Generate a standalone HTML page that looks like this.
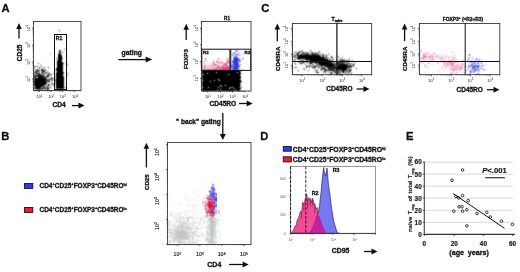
<!DOCTYPE html><html><head><meta charset="utf-8"><style>html,body{margin:0;padding:0;background:#fff;}svg{display:block;will-change:transform;}</style></head><body><svg width="520" height="272" viewBox="0 0 520 272" font-family='"Liberation Sans", sans-serif'>
<defs><filter id="bl" x="-5%" y="-5%" width="110%" height="110%"><feConvolveMatrix order="3" kernelMatrix="1 2 1 2 6 2 1 2 1" divisor="18" preserveAlpha="false"/></filter><filter id="bl2" x="-5%" y="-5%" width="110%" height="110%"><feConvolveMatrix order="3" kernelMatrix="1 2 1 2 12 2 1 2 1" divisor="24" preserveAlpha="false"/></filter></defs>
<rect width="520" height="272" fill="#fff"/>
<text x="1.6" y="12.4" font-size="11.2" font-weight="bold" text-anchor="start" fill="#111" stroke="#111" stroke-width="0.3" >A</text>
<g filter="url(#bl)"><path fill="#000" fill-opacity="0.55" d="M50 53h1v1h-1zM58 53h1v1h-1zM40 64h1v1h-1zM42 69h1v1h-1zM34 70h1v1h-1zM45 70h1v1h-1zM54 70h1v1h-1zM37 71h1v1h-1zM47 71h1v1h-1zM36 72h1v1h-1zM37 72h1v1h-1zM43 72h1v1h-1zM48 72h1v1h-1zM35 73h1v1h-1zM45 73h1v1h-1zM53 73h1v1h-1zM67 75h1v1h-1zM48 79h1v1h-1zM49 79h1v1h-1zM50 79h1v1h-1zM53 79h1v1h-1zM48 81h1v1h-1zM49 84h1v1h-1zM51 85h1v1h-1zM34 89h1v1h-1zM45 89h1v1h-1z"/>
<path fill="#000" fill-opacity="0.70" d="M66 48h1v1h-1zM64 49h1v1h-1zM60 51h1v1h-1zM59 52h1v1h-1zM60 52h1v1h-1zM58 54h1v1h-1zM62 58h1v1h-1zM57 60h1v1h-1zM38 63h1v1h-1zM67 64h1v1h-1zM35 66h1v1h-1zM42 68h1v1h-1zM36 69h1v1h-1zM37 69h1v1h-1zM41 69h1v1h-1zM43 69h1v1h-1zM45 69h1v1h-1zM37 70h1v1h-1zM43 70h1v1h-1zM36 71h1v1h-1zM44 71h1v1h-1zM39 72h1v1h-1zM41 72h1v1h-1zM45 72h1v1h-1zM56 72h1v1h-1zM63 72h1v1h-1zM36 73h1v1h-1zM39 73h1v1h-1zM42 73h1v1h-1zM40 74h1v1h-1zM41 74h1v1h-1zM43 74h1v1h-1zM49 74h1v1h-1zM35 75h1v1h-1zM36 75h1v1h-1zM44 75h1v1h-1zM46 75h1v1h-1zM34 76h1v1h-1zM36 76h1v1h-1zM45 76h1v1h-1zM47 77h1v1h-1zM34 78h1v1h-1zM51 78h1v1h-1zM54 78h1v1h-1zM47 79h1v1h-1zM46 80h1v1h-1zM47 80h1v1h-1zM48 80h1v1h-1zM46 81h1v1h-1zM47 81h1v1h-1zM49 81h1v1h-1zM51 81h1v1h-1zM51 83h1v1h-1zM53 84h1v1h-1zM44 85h1v1h-1zM47 85h1v1h-1zM49 85h1v1h-1zM44 86h1v1h-1zM34 87h1v1h-1zM42 87h1v1h-1zM46 87h1v1h-1zM47 87h1v1h-1zM40 88h1v1h-1zM41 88h1v1h-1zM43 88h1v1h-1zM36 89h1v1h-1zM40 89h1v1h-1zM41 89h1v1h-1z"/>
<path fill="#000" fill-opacity="0.85" d="M59 50h1v1h-1zM60 50h1v1h-1zM59 53h1v1h-1zM60 53h1v1h-1zM61 55h1v1h-1zM56 58h1v1h-1zM62 62h1v1h-1zM66 62h1v1h-1zM63 63h1v1h-1zM44 67h1v1h-1zM48 67h1v1h-1zM34 68h1v1h-1zM39 68h1v1h-1zM56 69h1v1h-1zM36 70h1v1h-1zM39 70h1v1h-1zM44 70h1v1h-1zM35 71h1v1h-1zM38 71h1v1h-1zM42 71h1v1h-1zM43 71h1v1h-1zM35 72h1v1h-1zM46 72h1v1h-1zM37 73h1v1h-1zM38 73h1v1h-1zM47 73h1v1h-1zM67 73h1v1h-1zM36 74h1v1h-1zM42 74h1v1h-1zM48 74h1v1h-1zM51 74h1v1h-1zM37 75h1v1h-1zM39 75h1v1h-1zM40 75h1v1h-1zM47 75h1v1h-1zM50 75h1v1h-1zM35 76h1v1h-1zM37 76h1v1h-1zM38 76h1v1h-1zM43 76h1v1h-1zM48 76h1v1h-1zM63 76h1v1h-1zM44 77h1v1h-1zM46 77h1v1h-1zM35 78h1v1h-1zM45 78h1v1h-1zM49 78h1v1h-1zM52 78h1v1h-1zM34 79h1v1h-1zM45 79h1v1h-1zM34 80h1v1h-1zM45 80h1v1h-1zM49 80h1v1h-1zM52 80h1v1h-1zM45 82h1v1h-1zM46 82h1v1h-1zM48 82h1v1h-1zM44 83h1v1h-1zM46 83h1v1h-1zM55 83h1v1h-1zM48 84h1v1h-1zM43 85h1v1h-1zM53 85h1v1h-1zM42 86h1v1h-1zM45 86h1v1h-1zM47 86h1v1h-1zM35 87h1v1h-1zM43 87h1v1h-1zM44 87h1v1h-1zM48 87h1v1h-1zM34 88h1v1h-1zM35 88h1v1h-1zM37 88h1v1h-1zM38 88h1v1h-1zM39 88h1v1h-1zM42 88h1v1h-1zM45 88h1v1h-1zM47 88h1v1h-1zM48 88h1v1h-1zM37 89h1v1h-1zM39 89h1v1h-1zM42 89h1v1h-1zM46 89h1v1h-1zM47 89h1v1h-1z"/>
<path fill="#000" fill-opacity="1.00" d="M59 30h1v1h-1zM59 51h1v1h-1zM62 52h1v1h-1zM59 54h1v1h-1zM60 54h1v1h-1zM58 55h1v1h-1zM59 55h1v1h-1zM60 55h1v1h-1zM58 56h1v1h-1zM59 56h1v1h-1zM60 56h1v1h-1zM61 56h1v1h-1zM58 57h1v1h-1zM59 57h1v1h-1zM60 57h1v1h-1zM61 57h1v1h-1zM58 58h1v1h-1zM59 58h1v1h-1zM60 58h1v1h-1zM61 58h1v1h-1zM58 59h1v1h-1zM59 59h1v1h-1zM60 59h1v1h-1zM61 59h1v1h-1zM58 60h1v1h-1zM59 60h1v1h-1zM60 60h1v1h-1zM61 60h1v1h-1zM57 61h1v1h-1zM58 61h1v1h-1zM59 61h1v1h-1zM60 61h1v1h-1zM61 61h1v1h-1zM57 62h1v1h-1zM58 62h1v1h-1zM59 62h1v1h-1zM60 62h1v1h-1zM61 62h1v1h-1zM57 63h1v1h-1zM58 63h1v1h-1zM59 63h1v1h-1zM60 63h1v1h-1zM61 63h1v1h-1zM62 63h1v1h-1zM57 64h1v1h-1zM58 64h1v1h-1zM59 64h1v1h-1zM60 64h1v1h-1zM61 64h1v1h-1zM62 64h1v1h-1zM57 65h1v1h-1zM58 65h1v1h-1zM59 65h1v1h-1zM60 65h1v1h-1zM61 65h1v1h-1zM62 65h1v1h-1zM34 66h1v1h-1zM37 66h1v1h-1zM41 66h1v1h-1zM57 66h1v1h-1zM58 66h1v1h-1zM59 66h1v1h-1zM60 66h1v1h-1zM61 66h1v1h-1zM62 66h1v1h-1zM39 67h1v1h-1zM57 67h1v1h-1zM58 67h1v1h-1zM59 67h1v1h-1zM60 67h1v1h-1zM61 67h1v1h-1zM62 67h1v1h-1zM56 68h1v1h-1zM57 68h1v1h-1zM58 68h1v1h-1zM59 68h1v1h-1zM60 68h1v1h-1zM61 68h1v1h-1zM62 68h1v1h-1zM57 69h1v1h-1zM58 69h1v1h-1zM59 69h1v1h-1zM60 69h1v1h-1zM61 69h1v1h-1zM62 69h1v1h-1zM38 70h1v1h-1zM41 70h1v1h-1zM42 70h1v1h-1zM56 70h1v1h-1zM57 70h1v1h-1zM58 70h1v1h-1zM59 70h1v1h-1zM60 70h1v1h-1zM61 70h1v1h-1zM62 70h1v1h-1zM57 71h1v1h-1zM58 71h1v1h-1zM59 71h1v1h-1zM60 71h1v1h-1zM61 71h1v1h-1zM62 71h1v1h-1zM34 72h1v1h-1zM42 72h1v1h-1zM57 72h1v1h-1zM58 72h1v1h-1zM59 72h1v1h-1zM60 72h1v1h-1zM61 72h1v1h-1zM62 72h1v1h-1zM44 73h1v1h-1zM49 73h1v1h-1zM56 73h1v1h-1zM57 73h1v1h-1zM58 73h1v1h-1zM59 73h1v1h-1zM60 73h1v1h-1zM61 73h1v1h-1zM62 73h1v1h-1zM63 73h1v1h-1zM34 74h1v1h-1zM38 74h1v1h-1zM39 74h1v1h-1zM56 74h1v1h-1zM57 74h1v1h-1zM58 74h1v1h-1zM59 74h1v1h-1zM60 74h1v1h-1zM61 74h1v1h-1zM62 74h1v1h-1zM34 75h1v1h-1zM38 75h1v1h-1zM41 75h1v1h-1zM43 75h1v1h-1zM48 75h1v1h-1zM56 75h1v1h-1zM57 75h1v1h-1zM58 75h1v1h-1zM59 75h1v1h-1zM60 75h1v1h-1zM61 75h1v1h-1zM62 75h1v1h-1zM39 76h1v1h-1zM40 76h1v1h-1zM41 76h1v1h-1zM42 76h1v1h-1zM47 76h1v1h-1zM56 76h1v1h-1zM57 76h1v1h-1zM58 76h1v1h-1zM59 76h1v1h-1zM60 76h1v1h-1zM61 76h1v1h-1zM62 76h1v1h-1zM34 77h1v1h-1zM35 77h1v1h-1zM38 77h1v1h-1zM39 77h1v1h-1zM40 77h1v1h-1zM41 77h1v1h-1zM42 77h1v1h-1zM43 77h1v1h-1zM45 77h1v1h-1zM51 77h1v1h-1zM56 77h1v1h-1zM57 77h1v1h-1zM58 77h1v1h-1zM59 77h1v1h-1zM60 77h1v1h-1zM61 77h1v1h-1zM62 77h1v1h-1zM63 77h1v1h-1zM36 78h1v1h-1zM37 78h1v1h-1zM38 78h1v1h-1zM39 78h1v1h-1zM40 78h1v1h-1zM41 78h1v1h-1zM42 78h1v1h-1zM43 78h1v1h-1zM44 78h1v1h-1zM56 78h1v1h-1zM57 78h1v1h-1zM58 78h1v1h-1zM59 78h1v1h-1zM60 78h1v1h-1zM61 78h1v1h-1zM62 78h1v1h-1zM63 78h1v1h-1zM35 79h1v1h-1zM36 79h1v1h-1zM37 79h1v1h-1zM38 79h1v1h-1zM39 79h1v1h-1zM40 79h1v1h-1zM41 79h1v1h-1zM42 79h1v1h-1zM43 79h1v1h-1zM44 79h1v1h-1zM46 79h1v1h-1zM51 79h1v1h-1zM56 79h1v1h-1zM57 79h1v1h-1zM58 79h1v1h-1zM59 79h1v1h-1zM60 79h1v1h-1zM61 79h1v1h-1zM62 79h1v1h-1zM63 79h1v1h-1zM35 80h1v1h-1zM36 80h1v1h-1zM37 80h1v1h-1zM38 80h1v1h-1zM39 80h1v1h-1zM40 80h1v1h-1zM41 80h1v1h-1zM42 80h1v1h-1zM43 80h1v1h-1zM44 80h1v1h-1zM55 80h1v1h-1zM56 80h1v1h-1zM57 80h1v1h-1zM58 80h1v1h-1zM59 80h1v1h-1zM60 80h1v1h-1zM61 80h1v1h-1zM62 80h1v1h-1zM63 80h1v1h-1zM34 81h1v1h-1zM35 81h1v1h-1zM36 81h1v1h-1zM37 81h1v1h-1zM38 81h1v1h-1zM39 81h1v1h-1zM40 81h1v1h-1zM41 81h1v1h-1zM42 81h1v1h-1zM43 81h1v1h-1zM44 81h1v1h-1zM45 81h1v1h-1zM56 81h1v1h-1zM57 81h1v1h-1zM58 81h1v1h-1zM59 81h1v1h-1zM60 81h1v1h-1zM61 81h1v1h-1zM62 81h1v1h-1zM63 81h1v1h-1zM34 82h1v1h-1zM35 82h1v1h-1zM36 82h1v1h-1zM37 82h1v1h-1zM38 82h1v1h-1zM39 82h1v1h-1zM40 82h1v1h-1zM41 82h1v1h-1zM42 82h1v1h-1zM43 82h1v1h-1zM44 82h1v1h-1zM56 82h1v1h-1zM57 82h1v1h-1zM58 82h1v1h-1zM59 82h1v1h-1zM60 82h1v1h-1zM61 82h1v1h-1zM62 82h1v1h-1zM63 82h1v1h-1zM34 83h1v1h-1zM35 83h1v1h-1zM36 83h1v1h-1zM37 83h1v1h-1zM38 83h1v1h-1zM39 83h1v1h-1zM40 83h1v1h-1zM41 83h1v1h-1zM42 83h1v1h-1zM43 83h1v1h-1zM45 83h1v1h-1zM52 83h1v1h-1zM56 83h1v1h-1zM57 83h1v1h-1zM58 83h1v1h-1zM59 83h1v1h-1zM60 83h1v1h-1zM61 83h1v1h-1zM62 83h1v1h-1zM63 83h1v1h-1zM34 84h1v1h-1zM35 84h1v1h-1zM36 84h1v1h-1zM37 84h1v1h-1zM38 84h1v1h-1zM39 84h1v1h-1zM40 84h1v1h-1zM41 84h1v1h-1zM42 84h1v1h-1zM43 84h1v1h-1zM44 84h1v1h-1zM45 84h1v1h-1zM56 84h1v1h-1zM57 84h1v1h-1zM58 84h1v1h-1zM59 84h1v1h-1zM60 84h1v1h-1zM61 84h1v1h-1zM62 84h1v1h-1zM63 84h1v1h-1zM34 85h1v1h-1zM35 85h1v1h-1zM36 85h1v1h-1zM37 85h1v1h-1zM38 85h1v1h-1zM39 85h1v1h-1zM40 85h1v1h-1zM41 85h1v1h-1zM42 85h1v1h-1zM48 85h1v1h-1zM56 85h1v1h-1zM57 85h1v1h-1zM58 85h1v1h-1zM59 85h1v1h-1zM60 85h1v1h-1zM61 85h1v1h-1zM62 85h1v1h-1zM63 85h1v1h-1zM35 86h1v1h-1zM36 86h1v1h-1zM37 86h1v1h-1zM38 86h1v1h-1zM39 86h1v1h-1zM40 86h1v1h-1zM41 86h1v1h-1zM56 86h1v1h-1zM57 86h1v1h-1zM58 86h1v1h-1zM59 86h1v1h-1zM60 86h1v1h-1zM61 86h1v1h-1zM62 86h1v1h-1zM63 86h1v1h-1zM36 87h1v1h-1zM37 87h1v1h-1zM38 87h1v1h-1zM39 87h1v1h-1zM40 87h1v1h-1zM50 87h1v1h-1zM56 87h1v1h-1zM57 87h1v1h-1zM58 87h1v1h-1zM59 87h1v1h-1zM60 87h1v1h-1zM61 87h1v1h-1zM62 87h1v1h-1zM63 87h1v1h-1zM65 87h1v1h-1zM36 88h1v1h-1zM44 88h1v1h-1zM56 88h1v1h-1zM57 88h1v1h-1zM58 88h1v1h-1zM59 88h1v1h-1zM60 88h1v1h-1zM61 88h1v1h-1zM62 88h1v1h-1zM63 88h1v1h-1zM38 89h1v1h-1zM48 89h1v1h-1zM60 90h1v1h-1z"/></g>
<rect x="33.5" y="21.5" width="47.5" height="69" fill="none" stroke="#222" stroke-width="0.8"/>
<rect x="54.5" y="34.5" width="12" height="55" fill="none" stroke="#111" stroke-width="1"/>
<text x="55.8" y="40" font-size="5.0" font-weight="bold" text-anchor="start" fill="#111" stroke="#111" stroke-width="0.3" >R1</text>
<line x1="31.9" y1="28.2" x2="33.5" y2="28.2" stroke="#333" stroke-width="0.7"/><line x1="32.6" y1="23.1" x2="33.5" y2="23.1" stroke="#333" stroke-width="0.5"/><line x1="31.9" y1="45.1" x2="33.5" y2="45.1" stroke="#333" stroke-width="0.7"/><line x1="32.6" y1="40.0" x2="33.5" y2="40.0" stroke="#333" stroke-width="0.5"/><line x1="32.6" y1="37.0" x2="33.5" y2="37.0" stroke="#333" stroke-width="0.5"/><line x1="32.6" y1="34.9" x2="33.5" y2="34.9" stroke="#333" stroke-width="0.5"/><line x1="32.6" y1="33.3" x2="33.5" y2="33.3" stroke="#333" stroke-width="0.5"/><line x1="32.6" y1="31.9" x2="33.5" y2="31.9" stroke="#333" stroke-width="0.5"/><line x1="32.6" y1="30.8" x2="33.5" y2="30.8" stroke="#333" stroke-width="0.5"/><line x1="32.6" y1="29.8" x2="33.5" y2="29.8" stroke="#333" stroke-width="0.5"/><line x1="32.6" y1="29.0" x2="33.5" y2="29.0" stroke="#333" stroke-width="0.5"/><line x1="31.9" y1="62.0" x2="33.5" y2="62.0" stroke="#333" stroke-width="0.7"/><line x1="32.6" y1="56.9" x2="33.5" y2="56.9" stroke="#333" stroke-width="0.5"/><line x1="32.6" y1="53.9" x2="33.5" y2="53.9" stroke="#333" stroke-width="0.5"/><line x1="32.6" y1="51.8" x2="33.5" y2="51.8" stroke="#333" stroke-width="0.5"/><line x1="32.6" y1="50.2" x2="33.5" y2="50.2" stroke="#333" stroke-width="0.5"/><line x1="32.6" y1="48.8" x2="33.5" y2="48.8" stroke="#333" stroke-width="0.5"/><line x1="32.6" y1="47.7" x2="33.5" y2="47.7" stroke="#333" stroke-width="0.5"/><line x1="32.6" y1="46.7" x2="33.5" y2="46.7" stroke="#333" stroke-width="0.5"/><line x1="32.6" y1="45.9" x2="33.5" y2="45.9" stroke="#333" stroke-width="0.5"/><line x1="31.9" y1="79.0" x2="33.5" y2="79.0" stroke="#333" stroke-width="0.7"/><line x1="32.6" y1="73.9" x2="33.5" y2="73.9" stroke="#333" stroke-width="0.5"/><line x1="32.6" y1="70.9" x2="33.5" y2="70.9" stroke="#333" stroke-width="0.5"/><line x1="32.6" y1="68.8" x2="33.5" y2="68.8" stroke="#333" stroke-width="0.5"/><line x1="32.6" y1="67.2" x2="33.5" y2="67.2" stroke="#333" stroke-width="0.5"/><line x1="32.6" y1="65.8" x2="33.5" y2="65.8" stroke="#333" stroke-width="0.5"/><line x1="32.6" y1="64.7" x2="33.5" y2="64.7" stroke="#333" stroke-width="0.5"/><line x1="32.6" y1="63.7" x2="33.5" y2="63.7" stroke="#333" stroke-width="0.5"/><line x1="32.6" y1="62.9" x2="33.5" y2="62.9" stroke="#333" stroke-width="0.5"/><line x1="32.6" y1="87.8" x2="33.5" y2="87.8" stroke="#333" stroke-width="0.5"/><line x1="32.6" y1="85.7" x2="33.5" y2="85.7" stroke="#333" stroke-width="0.5"/><line x1="32.6" y1="84.1" x2="33.5" y2="84.1" stroke="#333" stroke-width="0.5"/><line x1="32.6" y1="82.7" x2="33.5" y2="82.7" stroke="#333" stroke-width="0.5"/><line x1="32.6" y1="81.6" x2="33.5" y2="81.6" stroke="#333" stroke-width="0.5"/><line x1="32.6" y1="80.6" x2="33.5" y2="80.6" stroke="#333" stroke-width="0.5"/><line x1="32.6" y1="79.8" x2="33.5" y2="79.8" stroke="#333" stroke-width="0.5"/>
<line x1="34.8" y1="90.5" x2="34.8" y2="91.4" stroke="#333" stroke-width="0.5"/><line x1="35.9" y1="90.5" x2="35.9" y2="91.4" stroke="#333" stroke-width="0.5"/><line x1="36.9" y1="90.5" x2="36.9" y2="91.4" stroke="#333" stroke-width="0.5"/><line x1="37.7" y1="90.5" x2="37.7" y2="91.4" stroke="#333" stroke-width="0.5"/><line x1="38.4" y1="90.5" x2="38.4" y2="91.4" stroke="#333" stroke-width="0.5"/><line x1="39.0" y1="90.5" x2="39.0" y2="91.4" stroke="#333" stroke-width="0.5"/><line x1="39.5" y1="90.5" x2="39.5" y2="92.1" stroke="#333" stroke-width="0.7"/><line x1="43.1" y1="90.5" x2="43.1" y2="91.4" stroke="#333" stroke-width="0.5"/><line x1="45.1" y1="90.5" x2="45.1" y2="91.4" stroke="#333" stroke-width="0.5"/><line x1="46.6" y1="90.5" x2="46.6" y2="91.4" stroke="#333" stroke-width="0.5"/><line x1="47.7" y1="90.5" x2="47.7" y2="91.4" stroke="#333" stroke-width="0.5"/><line x1="48.7" y1="90.5" x2="48.7" y2="91.4" stroke="#333" stroke-width="0.5"/><line x1="49.5" y1="90.5" x2="49.5" y2="91.4" stroke="#333" stroke-width="0.5"/><line x1="50.2" y1="90.5" x2="50.2" y2="91.4" stroke="#333" stroke-width="0.5"/><line x1="50.8" y1="90.5" x2="50.8" y2="91.4" stroke="#333" stroke-width="0.5"/><line x1="51.2" y1="90.5" x2="51.2" y2="92.1" stroke="#333" stroke-width="0.7"/><line x1="54.8" y1="90.5" x2="54.8" y2="91.4" stroke="#333" stroke-width="0.5"/><line x1="56.8" y1="90.5" x2="56.8" y2="91.4" stroke="#333" stroke-width="0.5"/><line x1="58.3" y1="90.5" x2="58.3" y2="91.4" stroke="#333" stroke-width="0.5"/><line x1="59.4" y1="90.5" x2="59.4" y2="91.4" stroke="#333" stroke-width="0.5"/><line x1="60.4" y1="90.5" x2="60.4" y2="91.4" stroke="#333" stroke-width="0.5"/><line x1="61.2" y1="90.5" x2="61.2" y2="91.4" stroke="#333" stroke-width="0.5"/><line x1="61.9" y1="90.5" x2="61.9" y2="91.4" stroke="#333" stroke-width="0.5"/><line x1="62.5" y1="90.5" x2="62.5" y2="91.4" stroke="#333" stroke-width="0.5"/><line x1="62.8" y1="90.5" x2="62.8" y2="92.1" stroke="#333" stroke-width="0.7"/><line x1="66.4" y1="90.5" x2="66.4" y2="91.4" stroke="#333" stroke-width="0.5"/><line x1="68.4" y1="90.5" x2="68.4" y2="91.4" stroke="#333" stroke-width="0.5"/><line x1="69.9" y1="90.5" x2="69.9" y2="91.4" stroke="#333" stroke-width="0.5"/><line x1="71.0" y1="90.5" x2="71.0" y2="91.4" stroke="#333" stroke-width="0.5"/><line x1="72.0" y1="90.5" x2="72.0" y2="91.4" stroke="#333" stroke-width="0.5"/><line x1="72.8" y1="90.5" x2="72.8" y2="91.4" stroke="#333" stroke-width="0.5"/><line x1="73.5" y1="90.5" x2="73.5" y2="91.4" stroke="#333" stroke-width="0.5"/><line x1="74.1" y1="90.5" x2="74.1" y2="91.4" stroke="#333" stroke-width="0.5"/><line x1="75.0" y1="90.5" x2="75.0" y2="92.1" stroke="#333" stroke-width="0.7"/><line x1="78.6" y1="90.5" x2="78.6" y2="91.4" stroke="#333" stroke-width="0.5"/><line x1="80.6" y1="90.5" x2="80.6" y2="91.4" stroke="#333" stroke-width="0.5"/>
<text transform="translate(29.5,79) rotate(-90)" font-size="3.9" text-anchor="middle" fill="#222">10<tspan dy="-1.3" font-size="2.81">1</tspan></text>
<text transform="translate(29.5,62) rotate(-90)" font-size="3.9" text-anchor="middle" fill="#222">10<tspan dy="-1.3" font-size="2.81">2</tspan></text>
<text transform="translate(29.5,45.1) rotate(-90)" font-size="3.9" text-anchor="middle" fill="#222">10<tspan dy="-1.3" font-size="2.81">3</tspan></text>
<text transform="translate(29.5,28.2) rotate(-90)" font-size="3.9" text-anchor="middle" fill="#222">10<tspan dy="-1.3" font-size="2.81">4</tspan></text>
<text x="39.5" y="98.3" font-size="3.9" text-anchor="middle" fill="#222">10<tspan dy="-1.3" font-size="2.81">1</tspan></text>
<text x="51.2" y="98.3" font-size="3.9" text-anchor="middle" fill="#222">10<tspan dy="-1.3" font-size="2.81">2</tspan></text>
<text x="62.8" y="98.3" font-size="3.9" text-anchor="middle" fill="#222">10<tspan dy="-1.3" font-size="2.81">3</tspan></text>
<text x="75" y="98.3" font-size="3.9" text-anchor="middle" fill="#222">10<tspan dy="-1.3" font-size="2.81">4</tspan></text>
<text transform="translate(21.6,52.9) rotate(-90)" font-size="6.5" font-weight="bold" text-anchor="middle" fill="#111" stroke="#111" stroke-width="0.3">CD25</text>
<line x1="19" y1="28" x2="19" y2="38.5" stroke="#111" stroke-width="1.3"/><path d="M19 23 L16.2 29 L21.8 29Z" fill="#111"/>
<text x="52.4" y="107.3" font-size="6.6" font-weight="bold" text-anchor="start" fill="#111" stroke="#111" stroke-width="0.3" >CD4</text>
<line x1="72" y1="105.6" x2="79.5" y2="105.6" stroke="#111" stroke-width="1.3"/><path d="M84.5 105.6 L78.5 102.6 L78.5 108.6Z" fill="#111"/>
<text x="121.6" y="55.2" font-size="6.8" font-weight="bold" text-anchor="start" fill="#111" stroke="#111" stroke-width="0.3" >gating</text>
<line x1="118.4" y1="59.6" x2="146.6" y2="59.6" stroke="#111" stroke-width="1.3"/><path d="M152.2 59.6 L145.6 56.6 L145.6 62.6Z" fill="#111"/>
<g filter="url(#bl)"><path fill="#000" fill-opacity="0.55" d="M240 72h1v1h-1zM240 78h1v1h-1zM240 79h1v1h-1zM240 82h1v1h-1z"/>
<path fill="#000" fill-opacity="0.70" d="M240 74h1v1h-1zM240 83h1v1h-1zM240 90h1v1h-1z"/>
<path fill="#000" fill-opacity="0.85" d="M241 70h1v1h-1zM240 71h1v1h-1zM240 73h1v1h-1zM240 80h1v1h-1zM240 85h1v1h-1z"/>
<path fill="#000" fill-opacity="1.00" d="M202 70h1v1h-1zM203 70h1v1h-1zM204 70h1v1h-1zM205 70h1v1h-1zM206 70h1v1h-1zM207 70h1v1h-1zM208 70h1v1h-1zM209 70h1v1h-1zM210 70h1v1h-1zM211 70h1v1h-1zM212 70h1v1h-1zM213 70h1v1h-1zM214 70h1v1h-1zM215 70h1v1h-1zM216 70h1v1h-1zM217 70h1v1h-1zM218 70h1v1h-1zM219 70h1v1h-1zM220 70h1v1h-1zM221 70h1v1h-1zM222 70h1v1h-1zM223 70h1v1h-1zM224 70h1v1h-1zM225 70h1v1h-1zM226 70h1v1h-1zM227 70h1v1h-1zM228 70h1v1h-1zM229 70h1v1h-1zM230 70h1v1h-1zM231 70h1v1h-1zM232 70h1v1h-1zM233 70h1v1h-1zM234 70h1v1h-1zM235 70h1v1h-1zM236 70h1v1h-1zM237 70h1v1h-1zM238 70h1v1h-1zM239 70h1v1h-1zM202 71h1v1h-1zM203 71h1v1h-1zM204 71h1v1h-1zM205 71h1v1h-1zM206 71h1v1h-1zM207 71h1v1h-1zM208 71h1v1h-1zM209 71h1v1h-1zM210 71h1v1h-1zM211 71h1v1h-1zM212 71h1v1h-1zM213 71h1v1h-1zM214 71h1v1h-1zM215 71h1v1h-1zM216 71h1v1h-1zM217 71h1v1h-1zM218 71h1v1h-1zM219 71h1v1h-1zM220 71h1v1h-1zM221 71h1v1h-1zM222 71h1v1h-1zM223 71h1v1h-1zM224 71h1v1h-1zM225 71h1v1h-1zM226 71h1v1h-1zM227 71h1v1h-1zM228 71h1v1h-1zM229 71h1v1h-1zM230 71h1v1h-1zM231 71h1v1h-1zM232 71h1v1h-1zM233 71h1v1h-1zM234 71h1v1h-1zM235 71h1v1h-1zM236 71h1v1h-1zM237 71h1v1h-1zM238 71h1v1h-1zM239 71h1v1h-1zM202 72h1v1h-1zM203 72h1v1h-1zM204 72h1v1h-1zM205 72h1v1h-1zM206 72h1v1h-1zM207 72h1v1h-1zM208 72h1v1h-1zM209 72h1v1h-1zM210 72h1v1h-1zM211 72h1v1h-1zM212 72h1v1h-1zM213 72h1v1h-1zM214 72h1v1h-1zM215 72h1v1h-1zM217 72h1v1h-1zM218 72h1v1h-1zM219 72h1v1h-1zM220 72h1v1h-1zM221 72h1v1h-1zM222 72h1v1h-1zM223 72h1v1h-1zM224 72h1v1h-1zM225 72h1v1h-1zM226 72h1v1h-1zM227 72h1v1h-1zM228 72h1v1h-1zM229 72h1v1h-1zM230 72h1v1h-1zM231 72h1v1h-1zM232 72h1v1h-1zM233 72h1v1h-1zM234 72h1v1h-1zM235 72h1v1h-1zM236 72h1v1h-1zM238 72h1v1h-1zM239 72h1v1h-1zM202 73h1v1h-1zM203 73h1v1h-1zM204 73h1v1h-1zM205 73h1v1h-1zM206 73h1v1h-1zM208 73h1v1h-1zM209 73h1v1h-1zM210 73h1v1h-1zM211 73h1v1h-1zM212 73h1v1h-1zM213 73h1v1h-1zM214 73h1v1h-1zM215 73h1v1h-1zM216 73h1v1h-1zM217 73h1v1h-1zM218 73h1v1h-1zM219 73h1v1h-1zM220 73h1v1h-1zM221 73h1v1h-1zM222 73h1v1h-1zM223 73h1v1h-1zM224 73h1v1h-1zM225 73h1v1h-1zM226 73h1v1h-1zM227 73h1v1h-1zM228 73h1v1h-1zM229 73h1v1h-1zM230 73h1v1h-1zM231 73h1v1h-1zM232 73h1v1h-1zM233 73h1v1h-1zM234 73h1v1h-1zM235 73h1v1h-1zM236 73h1v1h-1zM237 73h1v1h-1zM238 73h1v1h-1zM239 73h1v1h-1zM202 74h1v1h-1zM204 74h1v1h-1zM205 74h1v1h-1zM206 74h1v1h-1zM207 74h1v1h-1zM208 74h1v1h-1zM209 74h1v1h-1zM210 74h1v1h-1zM211 74h1v1h-1zM212 74h1v1h-1zM213 74h1v1h-1zM214 74h1v1h-1zM215 74h1v1h-1zM216 74h1v1h-1zM217 74h1v1h-1zM218 74h1v1h-1zM219 74h1v1h-1zM220 74h1v1h-1zM221 74h1v1h-1zM222 74h1v1h-1zM223 74h1v1h-1zM224 74h1v1h-1zM225 74h1v1h-1zM226 74h1v1h-1zM227 74h1v1h-1zM229 74h1v1h-1zM230 74h1v1h-1zM231 74h1v1h-1zM232 74h1v1h-1zM233 74h1v1h-1zM234 74h1v1h-1zM235 74h1v1h-1zM236 74h1v1h-1zM237 74h1v1h-1zM238 74h1v1h-1zM239 74h1v1h-1zM202 75h1v1h-1zM203 75h1v1h-1zM204 75h1v1h-1zM205 75h1v1h-1zM206 75h1v1h-1zM207 75h1v1h-1zM208 75h1v1h-1zM209 75h1v1h-1zM210 75h1v1h-1zM211 75h1v1h-1zM212 75h1v1h-1zM213 75h1v1h-1zM214 75h1v1h-1zM215 75h1v1h-1zM216 75h1v1h-1zM217 75h1v1h-1zM218 75h1v1h-1zM219 75h1v1h-1zM220 75h1v1h-1zM221 75h1v1h-1zM222 75h1v1h-1zM223 75h1v1h-1zM224 75h1v1h-1zM225 75h1v1h-1zM226 75h1v1h-1zM227 75h1v1h-1zM228 75h1v1h-1zM229 75h1v1h-1zM230 75h1v1h-1zM231 75h1v1h-1zM232 75h1v1h-1zM233 75h1v1h-1zM234 75h1v1h-1zM235 75h1v1h-1zM236 75h1v1h-1zM237 75h1v1h-1zM238 75h1v1h-1zM239 75h1v1h-1zM202 76h1v1h-1zM203 76h1v1h-1zM204 76h1v1h-1zM205 76h1v1h-1zM206 76h1v1h-1zM207 76h1v1h-1zM208 76h1v1h-1zM209 76h1v1h-1zM210 76h1v1h-1zM211 76h1v1h-1zM212 76h1v1h-1zM213 76h1v1h-1zM214 76h1v1h-1zM215 76h1v1h-1zM216 76h1v1h-1zM217 76h1v1h-1zM218 76h1v1h-1zM219 76h1v1h-1zM220 76h1v1h-1zM221 76h1v1h-1zM222 76h1v1h-1zM223 76h1v1h-1zM224 76h1v1h-1zM225 76h1v1h-1zM226 76h1v1h-1zM227 76h1v1h-1zM228 76h1v1h-1zM229 76h1v1h-1zM230 76h1v1h-1zM231 76h1v1h-1zM232 76h1v1h-1zM233 76h1v1h-1zM234 76h1v1h-1zM235 76h1v1h-1zM236 76h1v1h-1zM237 76h1v1h-1zM238 76h1v1h-1zM239 76h1v1h-1zM240 76h1v1h-1zM202 77h1v1h-1zM203 77h1v1h-1zM204 77h1v1h-1zM205 77h1v1h-1zM206 77h1v1h-1zM207 77h1v1h-1zM208 77h1v1h-1zM209 77h1v1h-1zM210 77h1v1h-1zM211 77h1v1h-1zM212 77h1v1h-1zM213 77h1v1h-1zM214 77h1v1h-1zM215 77h1v1h-1zM216 77h1v1h-1zM217 77h1v1h-1zM218 77h1v1h-1zM219 77h1v1h-1zM220 77h1v1h-1zM221 77h1v1h-1zM222 77h1v1h-1zM223 77h1v1h-1zM224 77h1v1h-1zM225 77h1v1h-1zM226 77h1v1h-1zM227 77h1v1h-1zM228 77h1v1h-1zM229 77h1v1h-1zM230 77h1v1h-1zM231 77h1v1h-1zM232 77h1v1h-1zM233 77h1v1h-1zM234 77h1v1h-1zM235 77h1v1h-1zM236 77h1v1h-1zM237 77h1v1h-1zM238 77h1v1h-1zM239 77h1v1h-1zM240 77h1v1h-1zM202 78h1v1h-1zM203 78h1v1h-1zM204 78h1v1h-1zM205 78h1v1h-1zM206 78h1v1h-1zM207 78h1v1h-1zM208 78h1v1h-1zM209 78h1v1h-1zM210 78h1v1h-1zM211 78h1v1h-1zM212 78h1v1h-1zM213 78h1v1h-1zM214 78h1v1h-1zM215 78h1v1h-1zM216 78h1v1h-1zM217 78h1v1h-1zM218 78h1v1h-1zM219 78h1v1h-1zM220 78h1v1h-1zM221 78h1v1h-1zM222 78h1v1h-1zM223 78h1v1h-1zM224 78h1v1h-1zM225 78h1v1h-1zM226 78h1v1h-1zM227 78h1v1h-1zM228 78h1v1h-1zM229 78h1v1h-1zM230 78h1v1h-1zM231 78h1v1h-1zM232 78h1v1h-1zM233 78h1v1h-1zM234 78h1v1h-1zM235 78h1v1h-1zM236 78h1v1h-1zM237 78h1v1h-1zM238 78h1v1h-1zM239 78h1v1h-1zM202 79h1v1h-1zM203 79h1v1h-1zM204 79h1v1h-1zM205 79h1v1h-1zM206 79h1v1h-1zM207 79h1v1h-1zM208 79h1v1h-1zM209 79h1v1h-1zM210 79h1v1h-1zM211 79h1v1h-1zM212 79h1v1h-1zM213 79h1v1h-1zM214 79h1v1h-1zM215 79h1v1h-1zM216 79h1v1h-1zM217 79h1v1h-1zM219 79h1v1h-1zM220 79h1v1h-1zM221 79h1v1h-1zM222 79h1v1h-1zM223 79h1v1h-1zM224 79h1v1h-1zM225 79h1v1h-1zM226 79h1v1h-1zM227 79h1v1h-1zM228 79h1v1h-1zM229 79h1v1h-1zM230 79h1v1h-1zM231 79h1v1h-1zM232 79h1v1h-1zM233 79h1v1h-1zM234 79h1v1h-1zM235 79h1v1h-1zM236 79h1v1h-1zM237 79h1v1h-1zM238 79h1v1h-1zM239 79h1v1h-1zM203 80h1v1h-1zM204 80h1v1h-1zM205 80h1v1h-1zM206 80h1v1h-1zM207 80h1v1h-1zM208 80h1v1h-1zM209 80h1v1h-1zM210 80h1v1h-1zM211 80h1v1h-1zM212 80h1v1h-1zM213 80h1v1h-1zM215 80h1v1h-1zM216 80h1v1h-1zM217 80h1v1h-1zM218 80h1v1h-1zM220 80h1v1h-1zM221 80h1v1h-1zM222 80h1v1h-1zM223 80h1v1h-1zM224 80h1v1h-1zM225 80h1v1h-1zM226 80h1v1h-1zM227 80h1v1h-1zM228 80h1v1h-1zM229 80h1v1h-1zM230 80h1v1h-1zM231 80h1v1h-1zM232 80h1v1h-1zM233 80h1v1h-1zM234 80h1v1h-1zM235 80h1v1h-1zM236 80h1v1h-1zM237 80h1v1h-1zM238 80h1v1h-1zM239 80h1v1h-1zM202 81h1v1h-1zM203 81h1v1h-1zM204 81h1v1h-1zM205 81h1v1h-1zM206 81h1v1h-1zM207 81h1v1h-1zM208 81h1v1h-1zM209 81h1v1h-1zM211 81h1v1h-1zM212 81h1v1h-1zM213 81h1v1h-1zM214 81h1v1h-1zM215 81h1v1h-1zM216 81h1v1h-1zM217 81h1v1h-1zM218 81h1v1h-1zM219 81h1v1h-1zM220 81h1v1h-1zM221 81h1v1h-1zM222 81h1v1h-1zM223 81h1v1h-1zM224 81h1v1h-1zM225 81h1v1h-1zM226 81h1v1h-1zM227 81h1v1h-1zM228 81h1v1h-1zM229 81h1v1h-1zM230 81h1v1h-1zM231 81h1v1h-1zM232 81h1v1h-1zM233 81h1v1h-1zM234 81h1v1h-1zM235 81h1v1h-1zM236 81h1v1h-1zM237 81h1v1h-1zM238 81h1v1h-1zM239 81h1v1h-1zM240 81h1v1h-1zM241 81h1v1h-1zM202 82h1v1h-1zM203 82h1v1h-1zM204 82h1v1h-1zM205 82h1v1h-1zM206 82h1v1h-1zM207 82h1v1h-1zM208 82h1v1h-1zM209 82h1v1h-1zM210 82h1v1h-1zM211 82h1v1h-1zM212 82h1v1h-1zM213 82h1v1h-1zM214 82h1v1h-1zM215 82h1v1h-1zM216 82h1v1h-1zM217 82h1v1h-1zM218 82h1v1h-1zM219 82h1v1h-1zM220 82h1v1h-1zM221 82h1v1h-1zM222 82h1v1h-1zM223 82h1v1h-1zM224 82h1v1h-1zM225 82h1v1h-1zM226 82h1v1h-1zM227 82h1v1h-1zM228 82h1v1h-1zM229 82h1v1h-1zM230 82h1v1h-1zM231 82h1v1h-1zM232 82h1v1h-1zM233 82h1v1h-1zM234 82h1v1h-1zM235 82h1v1h-1zM236 82h1v1h-1zM237 82h1v1h-1zM238 82h1v1h-1zM239 82h1v1h-1zM202 83h1v1h-1zM203 83h1v1h-1zM204 83h1v1h-1zM205 83h1v1h-1zM206 83h1v1h-1zM207 83h1v1h-1zM208 83h1v1h-1zM209 83h1v1h-1zM210 83h1v1h-1zM211 83h1v1h-1zM212 83h1v1h-1zM213 83h1v1h-1zM214 83h1v1h-1zM215 83h1v1h-1zM216 83h1v1h-1zM217 83h1v1h-1zM218 83h1v1h-1zM219 83h1v1h-1zM220 83h1v1h-1zM221 83h1v1h-1zM222 83h1v1h-1zM223 83h1v1h-1zM224 83h1v1h-1zM225 83h1v1h-1zM226 83h1v1h-1zM227 83h1v1h-1zM228 83h1v1h-1zM229 83h1v1h-1zM230 83h1v1h-1zM231 83h1v1h-1zM232 83h1v1h-1zM233 83h1v1h-1zM234 83h1v1h-1zM235 83h1v1h-1zM236 83h1v1h-1zM237 83h1v1h-1zM238 83h1v1h-1zM239 83h1v1h-1zM202 84h1v1h-1zM203 84h1v1h-1zM204 84h1v1h-1zM205 84h1v1h-1zM206 84h1v1h-1zM207 84h1v1h-1zM208 84h1v1h-1zM209 84h1v1h-1zM210 84h1v1h-1zM211 84h1v1h-1zM212 84h1v1h-1zM213 84h1v1h-1zM214 84h1v1h-1zM215 84h1v1h-1zM216 84h1v1h-1zM217 84h1v1h-1zM218 84h1v1h-1zM219 84h1v1h-1zM220 84h1v1h-1zM221 84h1v1h-1zM222 84h1v1h-1zM223 84h1v1h-1zM224 84h1v1h-1zM225 84h1v1h-1zM226 84h1v1h-1zM227 84h1v1h-1zM228 84h1v1h-1zM229 84h1v1h-1zM230 84h1v1h-1zM231 84h1v1h-1zM232 84h1v1h-1zM233 84h1v1h-1zM234 84h1v1h-1zM235 84h1v1h-1zM236 84h1v1h-1zM237 84h1v1h-1zM238 84h1v1h-1zM239 84h1v1h-1zM202 85h1v1h-1zM203 85h1v1h-1zM204 85h1v1h-1zM205 85h1v1h-1zM206 85h1v1h-1zM207 85h1v1h-1zM208 85h1v1h-1zM209 85h1v1h-1zM210 85h1v1h-1zM211 85h1v1h-1zM212 85h1v1h-1zM213 85h1v1h-1zM214 85h1v1h-1zM215 85h1v1h-1zM216 85h1v1h-1zM217 85h1v1h-1zM218 85h1v1h-1zM219 85h1v1h-1zM221 85h1v1h-1zM222 85h1v1h-1zM223 85h1v1h-1zM224 85h1v1h-1zM226 85h1v1h-1zM227 85h1v1h-1zM228 85h1v1h-1zM229 85h1v1h-1zM230 85h1v1h-1zM231 85h1v1h-1zM232 85h1v1h-1zM233 85h1v1h-1zM234 85h1v1h-1zM235 85h1v1h-1zM236 85h1v1h-1zM237 85h1v1h-1zM238 85h1v1h-1zM239 85h1v1h-1zM202 86h1v1h-1zM203 86h1v1h-1zM204 86h1v1h-1zM205 86h1v1h-1zM206 86h1v1h-1zM207 86h1v1h-1zM208 86h1v1h-1zM209 86h1v1h-1zM210 86h1v1h-1zM211 86h1v1h-1zM212 86h1v1h-1zM213 86h1v1h-1zM214 86h1v1h-1zM215 86h1v1h-1zM216 86h1v1h-1zM217 86h1v1h-1zM218 86h1v1h-1zM219 86h1v1h-1zM220 86h1v1h-1zM222 86h1v1h-1zM223 86h1v1h-1zM224 86h1v1h-1zM225 86h1v1h-1zM226 86h1v1h-1zM227 86h1v1h-1zM228 86h1v1h-1zM229 86h1v1h-1zM230 86h1v1h-1zM231 86h1v1h-1zM232 86h1v1h-1zM233 86h1v1h-1zM234 86h1v1h-1zM235 86h1v1h-1zM236 86h1v1h-1zM237 86h1v1h-1zM238 86h1v1h-1zM239 86h1v1h-1zM203 87h1v1h-1zM204 87h1v1h-1zM205 87h1v1h-1zM206 87h1v1h-1zM207 87h1v1h-1zM209 87h1v1h-1zM210 87h1v1h-1zM211 87h1v1h-1zM212 87h1v1h-1zM213 87h1v1h-1zM214 87h1v1h-1zM215 87h1v1h-1zM216 87h1v1h-1zM217 87h1v1h-1zM219 87h1v1h-1zM220 87h1v1h-1zM221 87h1v1h-1zM222 87h1v1h-1zM223 87h1v1h-1zM224 87h1v1h-1zM225 87h1v1h-1zM226 87h1v1h-1zM227 87h1v1h-1zM228 87h1v1h-1zM229 87h1v1h-1zM231 87h1v1h-1zM233 87h1v1h-1zM234 87h1v1h-1zM235 87h1v1h-1zM236 87h1v1h-1zM237 87h1v1h-1zM238 87h1v1h-1zM239 87h1v1h-1zM241 87h1v1h-1zM202 88h1v1h-1zM203 88h1v1h-1zM204 88h1v1h-1zM205 88h1v1h-1zM206 88h1v1h-1zM207 88h1v1h-1zM208 88h1v1h-1zM209 88h1v1h-1zM210 88h1v1h-1zM211 88h1v1h-1zM212 88h1v1h-1zM213 88h1v1h-1zM214 88h1v1h-1zM215 88h1v1h-1zM216 88h1v1h-1zM217 88h1v1h-1zM218 88h1v1h-1zM219 88h1v1h-1zM220 88h1v1h-1zM221 88h1v1h-1zM222 88h1v1h-1zM223 88h1v1h-1zM224 88h1v1h-1zM225 88h1v1h-1zM226 88h1v1h-1zM227 88h1v1h-1zM228 88h1v1h-1zM230 88h1v1h-1zM231 88h1v1h-1zM232 88h1v1h-1zM233 88h1v1h-1zM235 88h1v1h-1zM236 88h1v1h-1zM237 88h1v1h-1zM238 88h1v1h-1zM239 88h1v1h-1zM240 88h1v1h-1zM202 89h1v1h-1zM203 89h1v1h-1zM204 89h1v1h-1zM205 89h1v1h-1zM206 89h1v1h-1zM207 89h1v1h-1zM208 89h1v1h-1zM209 89h1v1h-1zM210 89h1v1h-1zM211 89h1v1h-1zM212 89h1v1h-1zM213 89h1v1h-1zM214 89h1v1h-1zM215 89h1v1h-1zM216 89h1v1h-1zM217 89h1v1h-1zM218 89h1v1h-1zM219 89h1v1h-1zM221 89h1v1h-1zM222 89h1v1h-1zM223 89h1v1h-1zM224 89h1v1h-1zM225 89h1v1h-1zM226 89h1v1h-1zM227 89h1v1h-1zM228 89h1v1h-1zM229 89h1v1h-1zM230 89h1v1h-1zM231 89h1v1h-1zM232 89h1v1h-1zM233 89h1v1h-1zM234 89h1v1h-1zM235 89h1v1h-1zM236 89h1v1h-1zM237 89h1v1h-1zM238 89h1v1h-1zM239 89h1v1h-1zM202 90h1v1h-1zM203 90h1v1h-1zM204 90h1v1h-1zM205 90h1v1h-1zM206 90h1v1h-1zM207 90h1v1h-1zM208 90h1v1h-1zM209 90h1v1h-1zM210 90h1v1h-1zM211 90h1v1h-1zM212 90h1v1h-1zM213 90h1v1h-1zM214 90h1v1h-1zM215 90h1v1h-1zM216 90h1v1h-1zM218 90h1v1h-1zM219 90h1v1h-1zM220 90h1v1h-1zM221 90h1v1h-1zM222 90h1v1h-1zM223 90h1v1h-1zM224 90h1v1h-1zM225 90h1v1h-1zM226 90h1v1h-1zM227 90h1v1h-1zM228 90h1v1h-1zM229 90h1v1h-1zM230 90h1v1h-1zM231 90h1v1h-1zM232 90h1v1h-1zM233 90h1v1h-1zM234 90h1v1h-1zM236 90h1v1h-1zM237 90h1v1h-1zM238 90h1v1h-1zM239 90h1v1h-1z"/></g>
<g filter="url(#bl)"><path fill="#e8407a" fill-opacity="0.55" d="M228 60h1v1h-1zM204 61h1v1h-1zM213 61h1v1h-1zM213 62h1v1h-1zM219 63h1v1h-1zM211 64h1v1h-1zM203 65h1v1h-1zM208 65h1v1h-1zM211 65h1v1h-1zM226 65h1v1h-1zM214 66h1v1h-1zM207 67h1v1h-1zM208 67h1v1h-1zM212 68h1v1h-1zM214 68h1v1h-1zM204 69h1v1h-1zM208 69h1v1h-1z"/>
<path fill="#e8407a" fill-opacity="0.70" d="M206 60h1v1h-1zM212 61h1v1h-1zM221 61h1v1h-1zM227 61h1v1h-1zM229 61h1v1h-1zM214 62h1v1h-1zM220 62h1v1h-1zM221 62h1v1h-1zM228 62h1v1h-1zM209 63h1v1h-1zM220 63h1v1h-1zM223 63h1v1h-1zM224 63h1v1h-1zM212 64h1v1h-1zM213 64h1v1h-1zM219 64h1v1h-1zM222 64h1v1h-1zM224 64h1v1h-1zM226 64h1v1h-1zM229 64h1v1h-1zM205 65h1v1h-1zM206 65h1v1h-1zM218 65h1v1h-1zM222 65h1v1h-1zM223 65h1v1h-1zM204 66h1v1h-1zM209 66h1v1h-1zM217 66h1v1h-1zM218 66h1v1h-1zM221 66h1v1h-1zM222 66h1v1h-1zM205 67h1v1h-1zM212 67h1v1h-1zM215 67h1v1h-1zM217 67h1v1h-1zM218 67h1v1h-1zM204 68h1v1h-1zM216 68h1v1h-1zM217 68h1v1h-1zM210 69h1v1h-1zM214 69h1v1h-1zM215 69h1v1h-1zM216 69h1v1h-1zM217 69h1v1h-1z"/>
<path fill="#e8407a" fill-opacity="0.85" d="M205 59h1v1h-1zM218 59h1v1h-1zM227 59h1v1h-1zM228 61h1v1h-1zM217 62h1v1h-1zM227 62h1v1h-1zM225 63h1v1h-1zM214 64h1v1h-1zM215 64h1v1h-1zM216 64h1v1h-1zM204 65h1v1h-1zM214 65h1v1h-1zM215 65h1v1h-1zM217 65h1v1h-1zM225 65h1v1h-1zM210 66h1v1h-1zM219 66h1v1h-1zM223 66h1v1h-1zM225 66h1v1h-1zM226 66h1v1h-1zM227 66h1v1h-1zM206 67h1v1h-1zM216 67h1v1h-1zM219 67h1v1h-1zM221 67h1v1h-1zM203 68h1v1h-1zM209 68h1v1h-1zM218 68h1v1h-1zM219 68h1v1h-1zM220 68h1v1h-1zM205 69h1v1h-1zM207 69h1v1h-1zM220 69h1v1h-1z"/>
<path fill="#e8407a" fill-opacity="1.00" d="M227 60h1v1h-1zM216 61h1v1h-1zM217 61h1v1h-1zM204 62h1v1h-1zM218 62h1v1h-1zM222 62h1v1h-1zM226 62h1v1h-1zM213 63h1v1h-1zM226 63h1v1h-1zM228 63h1v1h-1zM225 64h1v1h-1zM224 65h1v1h-1zM227 65h1v1h-1zM212 66h1v1h-1zM228 66h1v1h-1zM204 67h1v1h-1zM220 67h1v1h-1zM222 67h1v1h-1zM223 67h1v1h-1zM224 67h1v1h-1zM225 67h1v1h-1zM226 67h1v1h-1zM227 67h1v1h-1zM228 67h1v1h-1zM229 67h1v1h-1zM211 68h1v1h-1zM213 68h1v1h-1zM215 68h1v1h-1zM222 68h1v1h-1zM223 68h1v1h-1zM224 68h1v1h-1zM225 68h1v1h-1zM226 68h1v1h-1zM227 68h1v1h-1zM228 68h1v1h-1zM229 68h1v1h-1zM209 69h1v1h-1zM213 69h1v1h-1zM219 69h1v1h-1zM221 69h1v1h-1zM222 69h1v1h-1zM223 69h1v1h-1zM224 69h1v1h-1zM225 69h1v1h-1zM226 69h1v1h-1zM227 69h1v1h-1zM228 69h1v1h-1zM229 69h1v1h-1z"/></g>
<g filter="url(#bl)"><path fill="#2a3ae0" fill-opacity="0.55" d="M241 54h1v1h-1zM235 55h1v1h-1zM233 57h1v1h-1zM240 61h1v1h-1zM239 65h1v1h-1zM231 66h1v1h-1zM231 67h1v1h-1zM232 67h1v1h-1zM239 67h1v1h-1z"/>
<path fill="#2a3ae0" fill-opacity="0.70" d="M234 52h1v1h-1zM238 52h1v1h-1zM232 53h1v1h-1zM234 53h1v1h-1zM235 53h1v1h-1zM237 54h1v1h-1zM232 55h1v1h-1zM236 55h1v1h-1zM239 55h1v1h-1zM234 56h1v1h-1zM233 58h1v1h-1zM242 58h1v1h-1zM233 59h1v1h-1zM238 59h1v1h-1zM239 59h1v1h-1zM240 60h1v1h-1zM238 62h1v1h-1zM233 63h1v1h-1zM238 63h1v1h-1zM233 66h1v1h-1zM238 66h1v1h-1zM232 68h1v1h-1zM232 69h1v1h-1z"/>
<path fill="#2a3ae0" fill-opacity="0.85" d="M233 53h1v1h-1zM236 54h1v1h-1zM233 55h1v1h-1zM236 56h1v1h-1zM234 57h1v1h-1zM236 57h1v1h-1zM237 57h1v1h-1zM238 58h1v1h-1zM233 60h1v1h-1zM238 60h1v1h-1zM232 62h1v1h-1zM233 62h1v1h-1zM232 64h1v1h-1zM233 64h1v1h-1zM238 64h1v1h-1zM240 64h1v1h-1zM231 65h1v1h-1zM238 65h1v1h-1zM239 66h1v1h-1zM233 67h1v1h-1zM233 69h1v1h-1zM238 69h1v1h-1z"/>
<path fill="#2a3ae0" fill-opacity="1.00" d="M235 50h1v1h-1zM237 50h1v1h-1zM236 51h1v1h-1zM238 54h1v1h-1zM235 57h1v1h-1zM234 58h1v1h-1zM235 58h1v1h-1zM236 58h1v1h-1zM237 58h1v1h-1zM234 59h1v1h-1zM235 59h1v1h-1zM236 59h1v1h-1zM237 59h1v1h-1zM234 60h1v1h-1zM235 60h1v1h-1zM236 60h1v1h-1zM237 60h1v1h-1zM239 60h1v1h-1zM232 61h1v1h-1zM233 61h1v1h-1zM234 61h1v1h-1zM235 61h1v1h-1zM236 61h1v1h-1zM237 61h1v1h-1zM239 61h1v1h-1zM234 62h1v1h-1zM235 62h1v1h-1zM236 62h1v1h-1zM237 62h1v1h-1zM234 63h1v1h-1zM235 63h1v1h-1zM236 63h1v1h-1zM237 63h1v1h-1zM234 64h1v1h-1zM235 64h1v1h-1zM236 64h1v1h-1zM237 64h1v1h-1zM232 65h1v1h-1zM234 65h1v1h-1zM235 65h1v1h-1zM236 65h1v1h-1zM237 65h1v1h-1zM232 66h1v1h-1zM234 66h1v1h-1zM235 66h1v1h-1zM236 66h1v1h-1zM237 66h1v1h-1zM234 67h1v1h-1zM235 67h1v1h-1zM236 67h1v1h-1zM237 67h1v1h-1zM238 67h1v1h-1zM233 68h1v1h-1zM234 68h1v1h-1zM235 68h1v1h-1zM236 68h1v1h-1zM237 68h1v1h-1zM234 69h1v1h-1zM235 69h1v1h-1zM236 69h1v1h-1zM237 69h1v1h-1z"/></g>
<rect x="201.5" y="21.5" width="49.5" height="69.5" fill="none" stroke="#222" stroke-width="0.8"/>
<rect x="201.8" y="49.2" width="49" height="21.2" fill="none" stroke="#111" stroke-width="1"/>
<line x1="230.3" y1="49.2" x2="230.3" y2="70.4" stroke="#333" stroke-width="2"/>
<text x="227" y="20.4" font-size="4.6" font-weight="bold" text-anchor="middle" fill="#111" stroke="#111" stroke-width="0.3" >R1</text>
<text x="203" y="54" font-size="4.4" font-weight="bold" text-anchor="start" fill="#111" stroke="#111" stroke-width="0.3" >R2</text>
<text x="244.5" y="54" font-size="4.4" font-weight="bold" text-anchor="start" fill="#111" stroke="#111" stroke-width="0.3" >R3</text>
<line x1="199.9" y1="28.2" x2="201.5" y2="28.2" stroke="#333" stroke-width="0.7"/><line x1="200.6" y1="23.2" x2="201.5" y2="23.2" stroke="#333" stroke-width="0.5"/><line x1="199.9" y1="44.4" x2="201.5" y2="44.4" stroke="#333" stroke-width="0.7"/><line x1="200.6" y1="39.4" x2="201.5" y2="39.4" stroke="#333" stroke-width="0.5"/><line x1="200.6" y1="36.4" x2="201.5" y2="36.4" stroke="#333" stroke-width="0.5"/><line x1="200.6" y1="34.3" x2="201.5" y2="34.3" stroke="#333" stroke-width="0.5"/><line x1="200.6" y1="32.7" x2="201.5" y2="32.7" stroke="#333" stroke-width="0.5"/><line x1="200.6" y1="31.4" x2="201.5" y2="31.4" stroke="#333" stroke-width="0.5"/><line x1="200.6" y1="30.3" x2="201.5" y2="30.3" stroke="#333" stroke-width="0.5"/><line x1="200.6" y1="29.3" x2="201.5" y2="29.3" stroke="#333" stroke-width="0.5"/><line x1="200.6" y1="28.5" x2="201.5" y2="28.5" stroke="#333" stroke-width="0.5"/><line x1="199.9" y1="61.5" x2="201.5" y2="61.5" stroke="#333" stroke-width="0.7"/><line x1="200.6" y1="56.5" x2="201.5" y2="56.5" stroke="#333" stroke-width="0.5"/><line x1="200.6" y1="53.5" x2="201.5" y2="53.5" stroke="#333" stroke-width="0.5"/><line x1="200.6" y1="51.4" x2="201.5" y2="51.4" stroke="#333" stroke-width="0.5"/><line x1="200.6" y1="49.8" x2="201.5" y2="49.8" stroke="#333" stroke-width="0.5"/><line x1="200.6" y1="48.5" x2="201.5" y2="48.5" stroke="#333" stroke-width="0.5"/><line x1="200.6" y1="47.4" x2="201.5" y2="47.4" stroke="#333" stroke-width="0.5"/><line x1="200.6" y1="46.4" x2="201.5" y2="46.4" stroke="#333" stroke-width="0.5"/><line x1="200.6" y1="45.6" x2="201.5" y2="45.6" stroke="#333" stroke-width="0.5"/><line x1="199.9" y1="78.2" x2="201.5" y2="78.2" stroke="#333" stroke-width="0.7"/><line x1="200.6" y1="73.2" x2="201.5" y2="73.2" stroke="#333" stroke-width="0.5"/><line x1="200.6" y1="70.2" x2="201.5" y2="70.2" stroke="#333" stroke-width="0.5"/><line x1="200.6" y1="68.1" x2="201.5" y2="68.1" stroke="#333" stroke-width="0.5"/><line x1="200.6" y1="66.5" x2="201.5" y2="66.5" stroke="#333" stroke-width="0.5"/><line x1="200.6" y1="65.2" x2="201.5" y2="65.2" stroke="#333" stroke-width="0.5"/><line x1="200.6" y1="64.1" x2="201.5" y2="64.1" stroke="#333" stroke-width="0.5"/><line x1="200.6" y1="63.1" x2="201.5" y2="63.1" stroke="#333" stroke-width="0.5"/><line x1="200.6" y1="62.3" x2="201.5" y2="62.3" stroke="#333" stroke-width="0.5"/><line x1="200.6" y1="89.9" x2="201.5" y2="89.9" stroke="#333" stroke-width="0.5"/><line x1="200.6" y1="86.9" x2="201.5" y2="86.9" stroke="#333" stroke-width="0.5"/><line x1="200.6" y1="84.8" x2="201.5" y2="84.8" stroke="#333" stroke-width="0.5"/><line x1="200.6" y1="83.2" x2="201.5" y2="83.2" stroke="#333" stroke-width="0.5"/><line x1="200.6" y1="81.9" x2="201.5" y2="81.9" stroke="#333" stroke-width="0.5"/><line x1="200.6" y1="80.8" x2="201.5" y2="80.8" stroke="#333" stroke-width="0.5"/><line x1="200.6" y1="79.8" x2="201.5" y2="79.8" stroke="#333" stroke-width="0.5"/><line x1="200.6" y1="79.0" x2="201.5" y2="79.0" stroke="#333" stroke-width="0.5"/>
<line x1="203.0" y1="91.0" x2="203.0" y2="91.9" stroke="#333" stroke-width="0.5"/><line x1="204.2" y1="91.0" x2="204.2" y2="91.9" stroke="#333" stroke-width="0.5"/><line x1="205.1" y1="91.0" x2="205.1" y2="91.9" stroke="#333" stroke-width="0.5"/><line x1="206.0" y1="91.0" x2="206.0" y2="91.9" stroke="#333" stroke-width="0.5"/><line x1="206.7" y1="91.0" x2="206.7" y2="91.9" stroke="#333" stroke-width="0.5"/><line x1="207.3" y1="91.0" x2="207.3" y2="91.9" stroke="#333" stroke-width="0.5"/><line x1="207.9" y1="91.0" x2="207.9" y2="92.6" stroke="#333" stroke-width="0.7"/><line x1="211.6" y1="91.0" x2="211.6" y2="91.9" stroke="#333" stroke-width="0.5"/><line x1="213.8" y1="91.0" x2="213.8" y2="91.9" stroke="#333" stroke-width="0.5"/><line x1="215.4" y1="91.0" x2="215.4" y2="91.9" stroke="#333" stroke-width="0.5"/><line x1="216.6" y1="91.0" x2="216.6" y2="91.9" stroke="#333" stroke-width="0.5"/><line x1="217.5" y1="91.0" x2="217.5" y2="91.9" stroke="#333" stroke-width="0.5"/><line x1="218.4" y1="91.0" x2="218.4" y2="91.9" stroke="#333" stroke-width="0.5"/><line x1="219.1" y1="91.0" x2="219.1" y2="91.9" stroke="#333" stroke-width="0.5"/><line x1="219.7" y1="91.0" x2="219.7" y2="91.9" stroke="#333" stroke-width="0.5"/><line x1="220.5" y1="91.0" x2="220.5" y2="92.6" stroke="#333" stroke-width="0.7"/><line x1="224.2" y1="91.0" x2="224.2" y2="91.9" stroke="#333" stroke-width="0.5"/><line x1="226.4" y1="91.0" x2="226.4" y2="91.9" stroke="#333" stroke-width="0.5"/><line x1="228.0" y1="91.0" x2="228.0" y2="91.9" stroke="#333" stroke-width="0.5"/><line x1="229.2" y1="91.0" x2="229.2" y2="91.9" stroke="#333" stroke-width="0.5"/><line x1="230.1" y1="91.0" x2="230.1" y2="91.9" stroke="#333" stroke-width="0.5"/><line x1="231.0" y1="91.0" x2="231.0" y2="91.9" stroke="#333" stroke-width="0.5"/><line x1="231.7" y1="91.0" x2="231.7" y2="91.9" stroke="#333" stroke-width="0.5"/><line x1="232.3" y1="91.0" x2="232.3" y2="91.9" stroke="#333" stroke-width="0.5"/><line x1="232.5" y1="91.0" x2="232.5" y2="92.6" stroke="#333" stroke-width="0.7"/><line x1="236.2" y1="91.0" x2="236.2" y2="91.9" stroke="#333" stroke-width="0.5"/><line x1="238.4" y1="91.0" x2="238.4" y2="91.9" stroke="#333" stroke-width="0.5"/><line x1="240.0" y1="91.0" x2="240.0" y2="91.9" stroke="#333" stroke-width="0.5"/><line x1="241.2" y1="91.0" x2="241.2" y2="91.9" stroke="#333" stroke-width="0.5"/><line x1="242.1" y1="91.0" x2="242.1" y2="91.9" stroke="#333" stroke-width="0.5"/><line x1="243.0" y1="91.0" x2="243.0" y2="91.9" stroke="#333" stroke-width="0.5"/><line x1="243.7" y1="91.0" x2="243.7" y2="91.9" stroke="#333" stroke-width="0.5"/><line x1="244.3" y1="91.0" x2="244.3" y2="91.9" stroke="#333" stroke-width="0.5"/><line x1="245.1" y1="91.0" x2="245.1" y2="92.6" stroke="#333" stroke-width="0.7"/><line x1="248.8" y1="91.0" x2="248.8" y2="91.9" stroke="#333" stroke-width="0.5"/>
<text transform="translate(197.5,78.2) rotate(-90)" font-size="3.9" text-anchor="middle" fill="#222">10<tspan dy="-1.3" font-size="2.81">1</tspan></text>
<text transform="translate(197.5,61.5) rotate(-90)" font-size="3.9" text-anchor="middle" fill="#222">10<tspan dy="-1.3" font-size="2.81">2</tspan></text>
<text transform="translate(197.5,44.4) rotate(-90)" font-size="3.9" text-anchor="middle" fill="#222">10<tspan dy="-1.3" font-size="2.81">3</tspan></text>
<text transform="translate(197.5,28.2) rotate(-90)" font-size="3.9" text-anchor="middle" fill="#222">10<tspan dy="-1.3" font-size="2.81">4</tspan></text>
<text x="207.9" y="98.4" font-size="3.9" text-anchor="middle" fill="#222">10<tspan dy="-1.3" font-size="2.81">1</tspan></text>
<text x="220.5" y="98.4" font-size="3.9" text-anchor="middle" fill="#222">10<tspan dy="-1.3" font-size="2.81">2</tspan></text>
<text x="232.5" y="98.4" font-size="3.9" text-anchor="middle" fill="#222">10<tspan dy="-1.3" font-size="2.81">3</tspan></text>
<text x="245.1" y="98.4" font-size="3.9" text-anchor="middle" fill="#222">10<tspan dy="-1.3" font-size="2.81">4</tspan></text>
<text transform="translate(188.2,59.2) rotate(-90)" font-size="6.1" font-weight="bold" text-anchor="middle" fill="#111" stroke="#111" stroke-width="0.3">FOXP3</text>
<line x1="186.2" y1="28.8" x2="186.2" y2="40" stroke="#111" stroke-width="1.3"/><path d="M186.2 23.8 L183.39999999999998 29.8 L189.0 29.8Z" fill="#111"/>
<text x="209.5" y="105.8" font-size="6.6" font-weight="bold" text-anchor="start" fill="#111" stroke="#111" stroke-width="0.3" >CD45RO</text>
<line x1="239" y1="103.5" x2="247.7" y2="103.5" stroke="#111" stroke-width="1.3"/><path d="M252.7 103.5 L246.7 100.5 L246.7 106.5Z" fill="#111"/>
<text x="261.3" y="12.4" font-size="11.2" font-weight="bold" text-anchor="start" fill="#111" stroke="#111" stroke-width="0.3" >C</text>
<g filter="url(#bl)"><path fill="#000" fill-opacity="0.55" d="M299 52h1v1h-1zM302 52h1v1h-1zM306 52h1v1h-1zM311 53h1v1h-1zM314 53h1v1h-1zM315 53h1v1h-1zM318 53h1v1h-1zM316 54h1v1h-1zM293 55h1v1h-1zM320 55h1v1h-1zM321 55h1v1h-1zM294 56h1v1h-1zM295 56h1v1h-1zM294 57h1v1h-1zM335 57h1v1h-1zM296 58h1v1h-1zM330 58h1v1h-1zM340 58h1v1h-1zM349 58h1v1h-1zM293 59h1v1h-1zM301 59h1v1h-1zM332 59h1v1h-1zM341 59h1v1h-1zM344 59h1v1h-1zM336 60h1v1h-1zM342 61h1v1h-1zM294 62h1v1h-1zM302 62h1v1h-1zM340 62h1v1h-1zM348 62h1v1h-1zM295 64h1v1h-1zM312 64h1v1h-1zM317 64h1v1h-1zM352 64h1v1h-1zM354 64h1v1h-1zM307 65h1v1h-1zM349 65h1v1h-1zM319 66h1v1h-1zM351 67h1v1h-1zM313 68h1v1h-1zM314 68h1v1h-1zM322 69h1v1h-1zM328 69h1v1h-1zM349 69h1v1h-1zM317 70h1v1h-1zM332 70h1v1h-1zM336 70h1v1h-1zM327 71h1v1h-1zM337 71h1v1h-1zM338 71h1v1h-1zM344 71h1v1h-1zM348 71h1v1h-1zM339 72h1v1h-1zM331 73h1v1h-1zM340 73h1v1h-1zM339 74h1v1h-1zM340 74h1v1h-1zM341 74h1v1h-1z"/>
<path fill="#000" fill-opacity="0.70" d="M310 50h1v1h-1zM298 53h1v1h-1zM302 53h1v1h-1zM306 53h1v1h-1zM307 53h1v1h-1zM308 53h1v1h-1zM310 53h1v1h-1zM313 53h1v1h-1zM320 53h1v1h-1zM298 54h1v1h-1zM313 54h1v1h-1zM314 54h1v1h-1zM325 55h1v1h-1zM297 56h1v1h-1zM322 56h1v1h-1zM326 56h1v1h-1zM295 57h1v1h-1zM325 57h1v1h-1zM326 57h1v1h-1zM328 57h1v1h-1zM342 57h1v1h-1zM326 58h1v1h-1zM327 58h1v1h-1zM299 59h1v1h-1zM342 59h1v1h-1zM303 60h1v1h-1zM329 60h1v1h-1zM346 60h1v1h-1zM302 61h1v1h-1zM307 61h1v1h-1zM311 61h1v1h-1zM332 61h1v1h-1zM339 61h1v1h-1zM344 61h1v1h-1zM350 61h1v1h-1zM304 62h1v1h-1zM306 62h1v1h-1zM314 62h1v1h-1zM333 62h1v1h-1zM336 62h1v1h-1zM342 62h1v1h-1zM343 62h1v1h-1zM344 62h1v1h-1zM347 62h1v1h-1zM295 63h1v1h-1zM302 63h1v1h-1zM309 63h1v1h-1zM316 63h1v1h-1zM335 63h1v1h-1zM336 63h1v1h-1zM340 63h1v1h-1zM342 63h1v1h-1zM343 63h1v1h-1zM344 63h1v1h-1zM346 63h1v1h-1zM348 63h1v1h-1zM349 63h1v1h-1zM313 64h1v1h-1zM318 64h1v1h-1zM335 64h1v1h-1zM337 64h1v1h-1zM347 64h1v1h-1zM348 64h1v1h-1zM310 65h1v1h-1zM312 65h1v1h-1zM315 65h1v1h-1zM316 65h1v1h-1zM317 65h1v1h-1zM319 65h1v1h-1zM320 65h1v1h-1zM311 66h1v1h-1zM315 66h1v1h-1zM321 66h1v1h-1zM322 66h1v1h-1zM351 66h1v1h-1zM309 67h1v1h-1zM314 67h1v1h-1zM318 67h1v1h-1zM323 67h1v1h-1zM324 67h1v1h-1zM325 67h1v1h-1zM348 67h1v1h-1zM349 67h1v1h-1zM303 68h1v1h-1zM330 68h1v1h-1zM348 68h1v1h-1zM317 69h1v1h-1zM323 69h1v1h-1zM324 69h1v1h-1zM327 69h1v1h-1zM331 69h1v1h-1zM333 69h1v1h-1zM334 69h1v1h-1zM347 69h1v1h-1zM351 69h1v1h-1zM308 70h1v1h-1zM324 70h1v1h-1zM325 70h1v1h-1zM326 70h1v1h-1zM329 70h1v1h-1zM337 70h1v1h-1zM338 70h1v1h-1zM339 70h1v1h-1zM345 70h1v1h-1zM346 70h1v1h-1zM349 70h1v1h-1zM316 71h1v1h-1zM324 71h1v1h-1zM335 71h1v1h-1zM339 71h1v1h-1zM346 71h1v1h-1zM325 72h1v1h-1zM328 72h1v1h-1zM330 72h1v1h-1zM334 72h1v1h-1zM338 72h1v1h-1zM340 72h1v1h-1zM342 72h1v1h-1zM344 72h1v1h-1zM330 73h1v1h-1zM338 73h1v1h-1zM326 74h1v1h-1zM337 74h1v1h-1z"/>
<path fill="#000" fill-opacity="0.85" d="M302 50h1v1h-1zM299 51h1v1h-1zM301 51h1v1h-1zM311 51h1v1h-1zM319 51h1v1h-1zM298 52h1v1h-1zM300 52h1v1h-1zM303 52h1v1h-1zM305 52h1v1h-1zM308 52h1v1h-1zM312 52h1v1h-1zM315 52h1v1h-1zM318 52h1v1h-1zM297 53h1v1h-1zM304 53h1v1h-1zM294 54h1v1h-1zM296 54h1v1h-1zM301 54h1v1h-1zM302 54h1v1h-1zM304 54h1v1h-1zM305 54h1v1h-1zM306 54h1v1h-1zM307 54h1v1h-1zM308 54h1v1h-1zM310 54h1v1h-1zM315 54h1v1h-1zM317 54h1v1h-1zM318 54h1v1h-1zM322 54h1v1h-1zM323 54h1v1h-1zM328 54h1v1h-1zM297 55h1v1h-1zM298 55h1v1h-1zM299 55h1v1h-1zM316 55h1v1h-1zM317 55h1v1h-1zM318 55h1v1h-1zM319 55h1v1h-1zM326 55h1v1h-1zM293 56h1v1h-1zM298 56h1v1h-1zM320 56h1v1h-1zM323 56h1v1h-1zM331 56h1v1h-1zM297 57h1v1h-1zM298 57h1v1h-1zM323 57h1v1h-1zM324 57h1v1h-1zM331 57h1v1h-1zM332 57h1v1h-1zM297 58h1v1h-1zM298 58h1v1h-1zM301 58h1v1h-1zM302 58h1v1h-1zM303 58h1v1h-1zM304 58h1v1h-1zM298 59h1v1h-1zM303 59h1v1h-1zM306 59h1v1h-1zM307 59h1v1h-1zM327 59h1v1h-1zM329 59h1v1h-1zM333 59h1v1h-1zM337 59h1v1h-1zM339 59h1v1h-1zM295 60h1v1h-1zM301 60h1v1h-1zM307 60h1v1h-1zM309 60h1v1h-1zM328 60h1v1h-1zM340 60h1v1h-1zM341 60h1v1h-1zM342 60h1v1h-1zM343 60h1v1h-1zM344 60h1v1h-1zM347 60h1v1h-1zM348 60h1v1h-1zM349 60h1v1h-1zM352 60h1v1h-1zM299 61h1v1h-1zM304 61h1v1h-1zM312 61h1v1h-1zM313 61h1v1h-1zM329 61h1v1h-1zM330 61h1v1h-1zM331 61h1v1h-1zM340 61h1v1h-1zM341 61h1v1h-1zM345 61h1v1h-1zM298 62h1v1h-1zM300 62h1v1h-1zM309 62h1v1h-1zM310 62h1v1h-1zM313 62h1v1h-1zM315 62h1v1h-1zM330 62h1v1h-1zM334 62h1v1h-1zM338 62h1v1h-1zM341 62h1v1h-1zM346 62h1v1h-1zM354 62h1v1h-1zM300 63h1v1h-1zM310 63h1v1h-1zM315 63h1v1h-1zM318 63h1v1h-1zM331 63h1v1h-1zM332 63h1v1h-1zM333 63h1v1h-1zM337 63h1v1h-1zM338 63h1v1h-1zM339 63h1v1h-1zM341 63h1v1h-1zM305 64h1v1h-1zM319 64h1v1h-1zM320 64h1v1h-1zM333 64h1v1h-1zM334 64h1v1h-1zM336 64h1v1h-1zM338 64h1v1h-1zM339 64h1v1h-1zM340 64h1v1h-1zM341 64h1v1h-1zM345 64h1v1h-1zM346 64h1v1h-1zM349 64h1v1h-1zM353 64h1v1h-1zM309 65h1v1h-1zM322 65h1v1h-1zM323 65h1v1h-1zM333 65h1v1h-1zM334 65h1v1h-1zM335 65h1v1h-1zM337 65h1v1h-1zM338 65h1v1h-1zM347 65h1v1h-1zM350 65h1v1h-1zM351 65h1v1h-1zM353 65h1v1h-1zM306 66h1v1h-1zM309 66h1v1h-1zM314 66h1v1h-1zM325 66h1v1h-1zM326 66h1v1h-1zM333 66h1v1h-1zM334 66h1v1h-1zM335 66h1v1h-1zM347 66h1v1h-1zM349 66h1v1h-1zM296 67h1v1h-1zM306 67h1v1h-1zM319 67h1v1h-1zM327 67h1v1h-1zM328 67h1v1h-1zM329 67h1v1h-1zM331 67h1v1h-1zM332 67h1v1h-1zM333 67h1v1h-1zM334 67h1v1h-1zM350 67h1v1h-1zM321 68h1v1h-1zM322 68h1v1h-1zM323 68h1v1h-1zM324 68h1v1h-1zM329 68h1v1h-1zM332 68h1v1h-1zM333 68h1v1h-1zM336 68h1v1h-1zM356 68h1v1h-1zM320 69h1v1h-1zM325 69h1v1h-1zM329 69h1v1h-1zM330 69h1v1h-1zM336 69h1v1h-1zM337 69h1v1h-1zM338 69h1v1h-1zM345 69h1v1h-1zM346 69h1v1h-1zM350 69h1v1h-1zM298 70h1v1h-1zM321 70h1v1h-1zM331 70h1v1h-1zM334 70h1v1h-1zM341 70h1v1h-1zM343 70h1v1h-1zM350 70h1v1h-1zM325 71h1v1h-1zM332 71h1v1h-1zM334 71h1v1h-1zM340 71h1v1h-1zM343 71h1v1h-1zM347 71h1v1h-1zM349 71h1v1h-1zM316 72h1v1h-1zM317 72h1v1h-1zM323 72h1v1h-1zM335 72h1v1h-1zM337 72h1v1h-1zM346 72h1v1h-1zM348 72h1v1h-1zM335 73h1v1h-1zM337 73h1v1h-1zM345 73h1v1h-1zM349 73h1v1h-1zM330 74h1v1h-1zM342 74h1v1h-1zM347 74h1v1h-1z"/>
<path fill="#000" fill-opacity="1.00" d="M294 52h1v1h-1zM296 52h1v1h-1zM303 53h1v1h-1zM312 53h1v1h-1zM316 53h1v1h-1zM297 54h1v1h-1zM300 54h1v1h-1zM312 54h1v1h-1zM295 55h1v1h-1zM300 55h1v1h-1zM301 55h1v1h-1zM302 55h1v1h-1zM303 55h1v1h-1zM304 55h1v1h-1zM305 55h1v1h-1zM306 55h1v1h-1zM307 55h1v1h-1zM308 55h1v1h-1zM309 55h1v1h-1zM310 55h1v1h-1zM311 55h1v1h-1zM312 55h1v1h-1zM313 55h1v1h-1zM314 55h1v1h-1zM315 55h1v1h-1zM323 55h1v1h-1zM299 56h1v1h-1zM300 56h1v1h-1zM301 56h1v1h-1zM302 56h1v1h-1zM303 56h1v1h-1zM304 56h1v1h-1zM305 56h1v1h-1zM306 56h1v1h-1zM307 56h1v1h-1zM308 56h1v1h-1zM309 56h1v1h-1zM310 56h1v1h-1zM311 56h1v1h-1zM312 56h1v1h-1zM313 56h1v1h-1zM314 56h1v1h-1zM315 56h1v1h-1zM316 56h1v1h-1zM317 56h1v1h-1zM318 56h1v1h-1zM319 56h1v1h-1zM338 56h1v1h-1zM299 57h1v1h-1zM300 57h1v1h-1zM301 57h1v1h-1zM302 57h1v1h-1zM303 57h1v1h-1zM304 57h1v1h-1zM305 57h1v1h-1zM306 57h1v1h-1zM307 57h1v1h-1zM308 57h1v1h-1zM309 57h1v1h-1zM310 57h1v1h-1zM311 57h1v1h-1zM312 57h1v1h-1zM313 57h1v1h-1zM314 57h1v1h-1zM315 57h1v1h-1zM316 57h1v1h-1zM317 57h1v1h-1zM318 57h1v1h-1zM319 57h1v1h-1zM320 57h1v1h-1zM321 57h1v1h-1zM322 57h1v1h-1zM299 58h1v1h-1zM300 58h1v1h-1zM305 58h1v1h-1zM306 58h1v1h-1zM307 58h1v1h-1zM308 58h1v1h-1zM309 58h1v1h-1zM310 58h1v1h-1zM311 58h1v1h-1zM312 58h1v1h-1zM313 58h1v1h-1zM314 58h1v1h-1zM315 58h1v1h-1zM316 58h1v1h-1zM317 58h1v1h-1zM318 58h1v1h-1zM319 58h1v1h-1zM320 58h1v1h-1zM321 58h1v1h-1zM322 58h1v1h-1zM323 58h1v1h-1zM324 58h1v1h-1zM294 59h1v1h-1zM305 59h1v1h-1zM308 59h1v1h-1zM309 59h1v1h-1zM310 59h1v1h-1zM311 59h1v1h-1zM312 59h1v1h-1zM313 59h1v1h-1zM314 59h1v1h-1zM315 59h1v1h-1zM316 59h1v1h-1zM317 59h1v1h-1zM318 59h1v1h-1zM319 59h1v1h-1zM320 59h1v1h-1zM321 59h1v1h-1zM322 59h1v1h-1zM323 59h1v1h-1zM324 59h1v1h-1zM325 59h1v1h-1zM326 59h1v1h-1zM306 60h1v1h-1zM310 60h1v1h-1zM311 60h1v1h-1zM312 60h1v1h-1zM313 60h1v1h-1zM314 60h1v1h-1zM315 60h1v1h-1zM316 60h1v1h-1zM317 60h1v1h-1zM318 60h1v1h-1zM319 60h1v1h-1zM320 60h1v1h-1zM321 60h1v1h-1zM322 60h1v1h-1zM323 60h1v1h-1zM324 60h1v1h-1zM325 60h1v1h-1zM326 60h1v1h-1zM327 60h1v1h-1zM330 60h1v1h-1zM332 60h1v1h-1zM301 61h1v1h-1zM310 61h1v1h-1zM314 61h1v1h-1zM315 61h1v1h-1zM316 61h1v1h-1zM317 61h1v1h-1zM318 61h1v1h-1zM319 61h1v1h-1zM320 61h1v1h-1zM321 61h1v1h-1zM322 61h1v1h-1zM323 61h1v1h-1zM324 61h1v1h-1zM325 61h1v1h-1zM326 61h1v1h-1zM327 61h1v1h-1zM328 61h1v1h-1zM343 61h1v1h-1zM346 61h1v1h-1zM303 62h1v1h-1zM307 62h1v1h-1zM311 62h1v1h-1zM312 62h1v1h-1zM316 62h1v1h-1zM317 62h1v1h-1zM318 62h1v1h-1zM319 62h1v1h-1zM320 62h1v1h-1zM321 62h1v1h-1zM322 62h1v1h-1zM323 62h1v1h-1zM324 62h1v1h-1zM325 62h1v1h-1zM326 62h1v1h-1zM327 62h1v1h-1zM328 62h1v1h-1zM329 62h1v1h-1zM331 62h1v1h-1zM337 62h1v1h-1zM339 62h1v1h-1zM301 63h1v1h-1zM311 63h1v1h-1zM319 63h1v1h-1zM320 63h1v1h-1zM321 63h1v1h-1zM322 63h1v1h-1zM323 63h1v1h-1zM324 63h1v1h-1zM325 63h1v1h-1zM326 63h1v1h-1zM327 63h1v1h-1zM328 63h1v1h-1zM329 63h1v1h-1zM330 63h1v1h-1zM351 63h1v1h-1zM321 64h1v1h-1zM322 64h1v1h-1zM323 64h1v1h-1zM324 64h1v1h-1zM325 64h1v1h-1zM326 64h1v1h-1zM327 64h1v1h-1zM328 64h1v1h-1zM329 64h1v1h-1zM330 64h1v1h-1zM331 64h1v1h-1zM332 64h1v1h-1zM342 64h1v1h-1zM343 64h1v1h-1zM344 64h1v1h-1zM321 65h1v1h-1zM324 65h1v1h-1zM325 65h1v1h-1zM326 65h1v1h-1zM327 65h1v1h-1zM328 65h1v1h-1zM329 65h1v1h-1zM330 65h1v1h-1zM331 65h1v1h-1zM332 65h1v1h-1zM339 65h1v1h-1zM340 65h1v1h-1zM341 65h1v1h-1zM342 65h1v1h-1zM343 65h1v1h-1zM344 65h1v1h-1zM345 65h1v1h-1zM346 65h1v1h-1zM307 66h1v1h-1zM313 66h1v1h-1zM317 66h1v1h-1zM327 66h1v1h-1zM328 66h1v1h-1zM329 66h1v1h-1zM330 66h1v1h-1zM331 66h1v1h-1zM332 66h1v1h-1zM337 66h1v1h-1zM338 66h1v1h-1zM339 66h1v1h-1zM340 66h1v1h-1zM341 66h1v1h-1zM342 66h1v1h-1zM343 66h1v1h-1zM344 66h1v1h-1zM345 66h1v1h-1zM346 66h1v1h-1zM348 66h1v1h-1zM350 66h1v1h-1zM353 66h1v1h-1zM294 67h1v1h-1zM312 67h1v1h-1zM315 67h1v1h-1zM321 67h1v1h-1zM330 67h1v1h-1zM335 67h1v1h-1zM336 67h1v1h-1zM337 67h1v1h-1zM338 67h1v1h-1zM339 67h1v1h-1zM340 67h1v1h-1zM341 67h1v1h-1zM342 67h1v1h-1zM343 67h1v1h-1zM344 67h1v1h-1zM345 67h1v1h-1zM346 67h1v1h-1zM347 67h1v1h-1zM328 68h1v1h-1zM331 68h1v1h-1zM334 68h1v1h-1zM335 68h1v1h-1zM337 68h1v1h-1zM338 68h1v1h-1zM339 68h1v1h-1zM340 68h1v1h-1zM341 68h1v1h-1zM342 68h1v1h-1zM343 68h1v1h-1zM344 68h1v1h-1zM345 68h1v1h-1zM346 68h1v1h-1zM304 69h1v1h-1zM326 69h1v1h-1zM332 69h1v1h-1zM339 69h1v1h-1zM340 69h1v1h-1zM341 69h1v1h-1zM342 69h1v1h-1zM343 69h1v1h-1zM344 69h1v1h-1zM348 69h1v1h-1zM315 70h1v1h-1zM328 70h1v1h-1zM330 70h1v1h-1zM333 70h1v1h-1zM335 70h1v1h-1zM342 70h1v1h-1zM344 70h1v1h-1zM342 71h1v1h-1zM350 71h1v1h-1zM318 72h1v1h-1zM331 72h1v1h-1zM343 72h1v1h-1zM332 73h1v1h-1zM351 73h1v1h-1z"/></g>
<rect x="292.5" y="23.5" width="79.2" height="51.2" fill="none" stroke="#222" stroke-width="0.8"/>
<line x1="336.9" y1="23" x2="336.9" y2="74.7" stroke="#111" stroke-width="1.2"/>
<line x1="292.5" y1="61.5" x2="371.7" y2="61.5" stroke="#111" stroke-width="1"/>
<text x="331.5" y="21.2" font-size="5.2" font-weight="bold" text-anchor="start" fill="#111" stroke="#111" stroke-width="0.3" >T<tspan font-size="3" dy="0.8">naive</tspan></text>
<line x1="290.9" y1="28.5" x2="292.5" y2="28.5" stroke="#333" stroke-width="0.7"/><line x1="291.6" y1="24.8" x2="292.5" y2="24.8" stroke="#333" stroke-width="0.5"/><line x1="290.9" y1="41.3" x2="292.5" y2="41.3" stroke="#333" stroke-width="0.7"/><line x1="291.6" y1="37.6" x2="292.5" y2="37.6" stroke="#333" stroke-width="0.5"/><line x1="291.6" y1="35.4" x2="292.5" y2="35.4" stroke="#333" stroke-width="0.5"/><line x1="291.6" y1="33.9" x2="292.5" y2="33.9" stroke="#333" stroke-width="0.5"/><line x1="291.6" y1="32.7" x2="292.5" y2="32.7" stroke="#333" stroke-width="0.5"/><line x1="291.6" y1="31.7" x2="292.5" y2="31.7" stroke="#333" stroke-width="0.5"/><line x1="291.6" y1="30.9" x2="292.5" y2="30.9" stroke="#333" stroke-width="0.5"/><line x1="291.6" y1="30.2" x2="292.5" y2="30.2" stroke="#333" stroke-width="0.5"/><line x1="291.6" y1="29.6" x2="292.5" y2="29.6" stroke="#333" stroke-width="0.5"/><line x1="290.9" y1="54.1" x2="292.5" y2="54.1" stroke="#333" stroke-width="0.7"/><line x1="291.6" y1="50.4" x2="292.5" y2="50.4" stroke="#333" stroke-width="0.5"/><line x1="291.6" y1="48.2" x2="292.5" y2="48.2" stroke="#333" stroke-width="0.5"/><line x1="291.6" y1="46.7" x2="292.5" y2="46.7" stroke="#333" stroke-width="0.5"/><line x1="291.6" y1="45.5" x2="292.5" y2="45.5" stroke="#333" stroke-width="0.5"/><line x1="291.6" y1="44.5" x2="292.5" y2="44.5" stroke="#333" stroke-width="0.5"/><line x1="291.6" y1="43.7" x2="292.5" y2="43.7" stroke="#333" stroke-width="0.5"/><line x1="291.6" y1="43.0" x2="292.5" y2="43.0" stroke="#333" stroke-width="0.5"/><line x1="291.6" y1="42.4" x2="292.5" y2="42.4" stroke="#333" stroke-width="0.5"/><line x1="290.9" y1="65.2" x2="292.5" y2="65.2" stroke="#333" stroke-width="0.7"/><line x1="291.6" y1="61.5" x2="292.5" y2="61.5" stroke="#333" stroke-width="0.5"/><line x1="291.6" y1="59.3" x2="292.5" y2="59.3" stroke="#333" stroke-width="0.5"/><line x1="291.6" y1="57.8" x2="292.5" y2="57.8" stroke="#333" stroke-width="0.5"/><line x1="291.6" y1="56.6" x2="292.5" y2="56.6" stroke="#333" stroke-width="0.5"/><line x1="291.6" y1="55.6" x2="292.5" y2="55.6" stroke="#333" stroke-width="0.5"/><line x1="291.6" y1="54.8" x2="292.5" y2="54.8" stroke="#333" stroke-width="0.5"/><line x1="291.6" y1="54.1" x2="292.5" y2="54.1" stroke="#333" stroke-width="0.5"/><line x1="291.6" y1="53.5" x2="292.5" y2="53.5" stroke="#333" stroke-width="0.5"/><line x1="291.6" y1="73.8" x2="292.5" y2="73.8" stroke="#333" stroke-width="0.5"/><line x1="291.6" y1="71.6" x2="292.5" y2="71.6" stroke="#333" stroke-width="0.5"/><line x1="291.6" y1="70.1" x2="292.5" y2="70.1" stroke="#333" stroke-width="0.5"/><line x1="291.6" y1="68.9" x2="292.5" y2="68.9" stroke="#333" stroke-width="0.5"/><line x1="291.6" y1="67.9" x2="292.5" y2="67.9" stroke="#333" stroke-width="0.5"/><line x1="291.6" y1="67.1" x2="292.5" y2="67.1" stroke="#333" stroke-width="0.5"/><line x1="291.6" y1="66.4" x2="292.5" y2="66.4" stroke="#333" stroke-width="0.5"/><line x1="291.6" y1="65.8" x2="292.5" y2="65.8" stroke="#333" stroke-width="0.5"/>
<line x1="294.4" y1="74.7" x2="294.4" y2="75.6" stroke="#333" stroke-width="0.5"/><line x1="296.3" y1="74.7" x2="296.3" y2="75.6" stroke="#333" stroke-width="0.5"/><line x1="297.9" y1="74.7" x2="297.9" y2="75.6" stroke="#333" stroke-width="0.5"/><line x1="299.2" y1="74.7" x2="299.2" y2="75.6" stroke="#333" stroke-width="0.5"/><line x1="300.4" y1="74.7" x2="300.4" y2="75.6" stroke="#333" stroke-width="0.5"/><line x1="301.4" y1="74.7" x2="301.4" y2="75.6" stroke="#333" stroke-width="0.5"/><line x1="302.3" y1="74.7" x2="302.3" y2="76.3" stroke="#333" stroke-width="0.7"/><line x1="308.3" y1="74.7" x2="308.3" y2="75.6" stroke="#333" stroke-width="0.5"/><line x1="311.7" y1="74.7" x2="311.7" y2="75.6" stroke="#333" stroke-width="0.5"/><line x1="314.2" y1="74.7" x2="314.2" y2="75.6" stroke="#333" stroke-width="0.5"/><line x1="316.1" y1="74.7" x2="316.1" y2="75.6" stroke="#333" stroke-width="0.5"/><line x1="317.7" y1="74.7" x2="317.7" y2="75.6" stroke="#333" stroke-width="0.5"/><line x1="319.0" y1="74.7" x2="319.0" y2="75.6" stroke="#333" stroke-width="0.5"/><line x1="320.2" y1="74.7" x2="320.2" y2="75.6" stroke="#333" stroke-width="0.5"/><line x1="321.2" y1="74.7" x2="321.2" y2="75.6" stroke="#333" stroke-width="0.5"/><line x1="322.7" y1="74.7" x2="322.7" y2="76.3" stroke="#333" stroke-width="0.7"/><line x1="328.7" y1="74.7" x2="328.7" y2="75.6" stroke="#333" stroke-width="0.5"/><line x1="332.1" y1="74.7" x2="332.1" y2="75.6" stroke="#333" stroke-width="0.5"/><line x1="334.6" y1="74.7" x2="334.6" y2="75.6" stroke="#333" stroke-width="0.5"/><line x1="336.5" y1="74.7" x2="336.5" y2="75.6" stroke="#333" stroke-width="0.5"/><line x1="338.1" y1="74.7" x2="338.1" y2="75.6" stroke="#333" stroke-width="0.5"/><line x1="339.4" y1="74.7" x2="339.4" y2="75.6" stroke="#333" stroke-width="0.5"/><line x1="340.6" y1="74.7" x2="340.6" y2="75.6" stroke="#333" stroke-width="0.5"/><line x1="341.6" y1="74.7" x2="341.6" y2="75.6" stroke="#333" stroke-width="0.5"/><line x1="342.3" y1="74.7" x2="342.3" y2="76.3" stroke="#333" stroke-width="0.7"/><line x1="348.3" y1="74.7" x2="348.3" y2="75.6" stroke="#333" stroke-width="0.5"/><line x1="351.7" y1="74.7" x2="351.7" y2="75.6" stroke="#333" stroke-width="0.5"/><line x1="354.2" y1="74.7" x2="354.2" y2="75.6" stroke="#333" stroke-width="0.5"/><line x1="356.1" y1="74.7" x2="356.1" y2="75.6" stroke="#333" stroke-width="0.5"/><line x1="357.7" y1="74.7" x2="357.7" y2="75.6" stroke="#333" stroke-width="0.5"/><line x1="359.0" y1="74.7" x2="359.0" y2="75.6" stroke="#333" stroke-width="0.5"/><line x1="360.2" y1="74.7" x2="360.2" y2="75.6" stroke="#333" stroke-width="0.5"/><line x1="361.2" y1="74.7" x2="361.2" y2="75.6" stroke="#333" stroke-width="0.5"/><line x1="361.9" y1="74.7" x2="361.9" y2="76.3" stroke="#333" stroke-width="0.7"/><line x1="367.9" y1="74.7" x2="367.9" y2="75.6" stroke="#333" stroke-width="0.5"/><line x1="371.3" y1="74.7" x2="371.3" y2="75.6" stroke="#333" stroke-width="0.5"/>
<text transform="translate(287.6,65.2) rotate(-90)" font-size="3.9" text-anchor="middle" fill="#222">10<tspan dy="-1.3" font-size="2.81">1</tspan></text>
<text transform="translate(287.6,54.1) rotate(-90)" font-size="3.9" text-anchor="middle" fill="#222">10<tspan dy="-1.3" font-size="2.81">2</tspan></text>
<text transform="translate(287.6,41.3) rotate(-90)" font-size="3.9" text-anchor="middle" fill="#222">10<tspan dy="-1.3" font-size="2.81">3</tspan></text>
<text transform="translate(287.6,28.5) rotate(-90)" font-size="3.9" text-anchor="middle" fill="#222">10<tspan dy="-1.3" font-size="2.81">4</tspan></text>
<text x="302.3" y="81.6" font-size="3.9" text-anchor="middle" fill="#222">10<tspan dy="-1.3" font-size="2.81">1</tspan></text>
<text x="322.7" y="81.6" font-size="3.9" text-anchor="middle" fill="#222">10<tspan dy="-1.3" font-size="2.81">2</tspan></text>
<text x="342.3" y="81.6" font-size="3.9" text-anchor="middle" fill="#222">10<tspan dy="-1.3" font-size="2.81">3</tspan></text>
<text x="361.9" y="81.6" font-size="3.9" text-anchor="middle" fill="#222">10<tspan dy="-1.3" font-size="2.81">4</tspan></text>
<text transform="translate(279.5,58.8) rotate(-90)" font-size="6.1" font-weight="bold" text-anchor="middle" fill="#111" stroke="#111" stroke-width="0.3">CD45RA</text>
<line x1="277.3" y1="28.5" x2="277.3" y2="41.2" stroke="#111" stroke-width="1.3"/><path d="M277.3 23.5 L274.5 29.5 L280.1 29.5Z" fill="#111"/>
<text x="326.2" y="91.3" font-size="6.5" font-weight="bold" text-anchor="start" fill="#111" stroke="#111" stroke-width="0.3" >CD45RO</text>
<line x1="356.6" y1="89" x2="364.5" y2="89" stroke="#111" stroke-width="1.3"/><path d="M369.5 89 L363.5 86 L363.5 92Z" fill="#111"/>
<g filter="url(#bl)"><path fill="#e4508a" fill-opacity="0.45" d="M429 51h1v1h-1zM423 53h1v1h-1zM426 53h1v1h-1zM427 53h1v1h-1zM420 54h1v1h-1zM430 54h1v1h-1zM435 54h1v1h-1zM425 55h1v1h-1zM431 56h1v1h-1zM437 56h1v1h-1zM447 57h1v1h-1zM439 58h1v1h-1zM441 58h1v1h-1zM440 59h1v1h-1zM444 60h1v1h-1zM462 60h1v1h-1zM445 61h1v1h-1zM449 61h1v1h-1zM422 62h1v1h-1zM447 62h1v1h-1zM458 62h1v1h-1zM421 63h1v1h-1zM445 63h1v1h-1zM425 64h1v1h-1zM447 64h1v1h-1zM442 65h1v1h-1zM441 67h1v1h-1zM459 67h1v1h-1zM452 69h1v1h-1zM456 69h1v1h-1zM447 70h1v1h-1zM456 70h1v1h-1zM460 71h1v1h-1zM461 71h1v1h-1z"/>
<path fill="#e4508a" fill-opacity="0.63" d="M426 52h1v1h-1zM433 53h1v1h-1zM423 54h1v1h-1zM428 54h1v1h-1zM432 55h1v1h-1zM437 55h1v1h-1zM439 55h1v1h-1zM425 56h1v1h-1zM427 56h1v1h-1zM436 56h1v1h-1zM421 57h1v1h-1zM422 57h1v1h-1zM424 57h1v1h-1zM427 57h1v1h-1zM429 57h1v1h-1zM437 57h1v1h-1zM426 58h1v1h-1zM429 58h1v1h-1zM432 58h1v1h-1zM450 58h1v1h-1zM441 59h1v1h-1zM442 59h1v1h-1zM428 60h1v1h-1zM436 60h1v1h-1zM448 60h1v1h-1zM452 60h1v1h-1zM463 60h1v1h-1zM447 61h1v1h-1zM454 61h1v1h-1zM456 61h1v1h-1zM448 62h1v1h-1zM423 63h1v1h-1zM437 63h1v1h-1zM449 63h1v1h-1zM446 64h1v1h-1zM451 64h1v1h-1zM454 64h1v1h-1zM456 64h1v1h-1zM458 64h1v1h-1zM461 64h1v1h-1zM444 65h1v1h-1zM459 65h1v1h-1zM463 65h1v1h-1zM450 66h1v1h-1zM452 66h1v1h-1zM455 66h1v1h-1zM458 66h1v1h-1zM460 66h1v1h-1zM463 67h1v1h-1zM451 68h1v1h-1zM454 68h1v1h-1zM459 68h1v1h-1zM461 68h1v1h-1zM454 69h1v1h-1zM455 69h1v1h-1zM460 69h1v1h-1zM461 69h1v1h-1zM438 70h1v1h-1zM450 71h1v1h-1zM452 72h1v1h-1zM457 72h1v1h-1zM463 72h1v1h-1zM455 73h1v1h-1z"/>
<path fill="#e4508a" fill-opacity="0.82" d="M421 49h1v1h-1zM421 51h1v1h-1zM420 52h1v1h-1zM452 52h1v1h-1zM424 53h1v1h-1zM426 54h1v1h-1zM431 54h1v1h-1zM424 55h1v1h-1zM442 55h1v1h-1zM446 55h1v1h-1zM454 55h1v1h-1zM424 56h1v1h-1zM426 56h1v1h-1zM430 56h1v1h-1zM445 56h1v1h-1zM451 56h1v1h-1zM425 57h1v1h-1zM432 57h1v1h-1zM442 57h1v1h-1zM454 57h1v1h-1zM421 58h1v1h-1zM423 58h1v1h-1zM430 58h1v1h-1zM434 58h1v1h-1zM420 59h1v1h-1zM423 59h1v1h-1zM432 59h1v1h-1zM454 59h1v1h-1zM456 59h1v1h-1zM431 60h1v1h-1zM432 60h1v1h-1zM450 60h1v1h-1zM421 61h1v1h-1zM430 61h1v1h-1zM442 61h1v1h-1zM443 61h1v1h-1zM448 61h1v1h-1zM459 61h1v1h-1zM461 61h1v1h-1zM428 62h1v1h-1zM438 62h1v1h-1zM443 62h1v1h-1zM444 62h1v1h-1zM446 62h1v1h-1zM449 62h1v1h-1zM451 62h1v1h-1zM457 62h1v1h-1zM429 63h1v1h-1zM446 63h1v1h-1zM451 63h1v1h-1zM452 63h1v1h-1zM453 63h1v1h-1zM444 64h1v1h-1zM449 64h1v1h-1zM450 64h1v1h-1zM452 64h1v1h-1zM425 65h1v1h-1zM447 65h1v1h-1zM452 65h1v1h-1zM453 65h1v1h-1zM457 65h1v1h-1zM425 66h1v1h-1zM446 66h1v1h-1zM451 66h1v1h-1zM454 66h1v1h-1zM457 66h1v1h-1zM461 66h1v1h-1zM427 67h1v1h-1zM442 67h1v1h-1zM454 67h1v1h-1zM460 67h1v1h-1zM461 67h1v1h-1zM449 68h1v1h-1zM456 68h1v1h-1zM462 68h1v1h-1zM450 69h1v1h-1zM458 69h1v1h-1zM459 69h1v1h-1zM444 70h1v1h-1zM453 70h1v1h-1zM453 71h1v1h-1zM451 73h1v1h-1zM456 73h1v1h-1z"/>
<path fill="#e4508a" fill-opacity="1.00" d="M434 53h1v1h-1zM423 55h1v1h-1zM429 56h1v1h-1zM432 56h1v1h-1zM435 56h1v1h-1zM423 57h1v1h-1zM439 57h1v1h-1zM441 57h1v1h-1zM448 57h1v1h-1zM444 58h1v1h-1zM453 58h1v1h-1zM452 59h1v1h-1zM424 60h1v1h-1zM434 61h1v1h-1zM450 62h1v1h-1zM453 62h1v1h-1zM455 62h1v1h-1zM462 63h1v1h-1zM462 64h1v1h-1zM448 65h1v1h-1zM456 66h1v1h-1zM445 67h1v1h-1zM452 68h1v1h-1zM457 68h1v1h-1zM453 69h1v1h-1zM450 73h1v1h-1z"/></g>
<g filter="url(#bl)"><path fill="#3444d4" fill-opacity="0.50" d="M472 59h1v1h-1zM477 60h1v1h-1zM473 62h1v1h-1zM478 62h1v1h-1zM472 63h1v1h-1zM474 63h1v1h-1zM486 64h1v1h-1zM477 65h1v1h-1zM466 66h1v1h-1zM479 66h1v1h-1zM466 70h1v1h-1zM472 70h1v1h-1z"/>
<path fill="#3444d4" fill-opacity="0.67" d="M468 57h1v1h-1zM472 57h1v1h-1zM477 59h1v1h-1zM478 61h1v1h-1zM481 61h1v1h-1zM481 62h1v1h-1zM469 63h1v1h-1zM475 63h1v1h-1zM472 64h1v1h-1zM474 64h1v1h-1zM469 65h1v1h-1zM479 65h1v1h-1zM476 66h1v1h-1zM468 67h1v1h-1zM472 67h1v1h-1zM476 67h1v1h-1zM471 68h1v1h-1zM472 68h1v1h-1zM474 68h1v1h-1zM475 68h1v1h-1zM476 68h1v1h-1zM478 68h1v1h-1zM475 69h1v1h-1zM468 70h1v1h-1zM474 70h1v1h-1zM475 70h1v1h-1zM476 70h1v1h-1zM478 70h1v1h-1zM471 72h1v1h-1zM469 73h1v1h-1zM476 73h1v1h-1z"/>
<path fill="#3444d4" fill-opacity="0.83" d="M469 58h1v1h-1zM468 59h1v1h-1zM475 59h1v1h-1zM467 60h1v1h-1zM470 61h1v1h-1zM471 61h1v1h-1zM482 61h1v1h-1zM471 62h1v1h-1zM473 63h1v1h-1zM477 63h1v1h-1zM481 63h1v1h-1zM471 64h1v1h-1zM468 65h1v1h-1zM472 65h1v1h-1zM474 65h1v1h-1zM475 65h1v1h-1zM476 65h1v1h-1zM478 65h1v1h-1zM482 65h1v1h-1zM483 65h1v1h-1zM469 66h1v1h-1zM470 66h1v1h-1zM472 66h1v1h-1zM474 66h1v1h-1zM475 66h1v1h-1zM477 66h1v1h-1zM478 66h1v1h-1zM474 67h1v1h-1zM477 67h1v1h-1zM468 68h1v1h-1zM473 68h1v1h-1zM480 68h1v1h-1zM481 68h1v1h-1zM472 69h1v1h-1zM484 69h1v1h-1zM470 70h1v1h-1zM477 70h1v1h-1zM471 71h1v1h-1zM473 71h1v1h-1zM470 72h1v1h-1zM473 72h1v1h-1zM478 73h1v1h-1z"/>
<path fill="#3444d4" fill-opacity="1.00" d="M469 55h1v1h-1zM476 58h1v1h-1zM479 59h1v1h-1zM474 61h1v1h-1zM479 61h1v1h-1zM475 62h1v1h-1zM478 63h1v1h-1zM471 65h1v1h-1zM473 66h1v1h-1zM481 66h1v1h-1zM473 67h1v1h-1zM478 67h1v1h-1zM474 69h1v1h-1zM477 69h1v1h-1zM483 69h1v1h-1zM479 70h1v1h-1zM470 71h1v1h-1zM474 71h1v1h-1z"/></g>
<rect x="419.5" y="23.5" width="80.3" height="51.2" fill="none" stroke="#222" stroke-width="0.8"/>
<line x1="465.2" y1="23" x2="465.2" y2="74.7" stroke="#111" stroke-width="1"/>
<line x1="419.5" y1="61.5" x2="499.8" y2="61.5" stroke="#111" stroke-width="1"/>
<text x="442.8" y="21.2" font-size="4.85" font-weight="bold" text-anchor="start" fill="#111" stroke="#111" stroke-width="0.3" >FOXP3<tspan font-size="3.2" dy="-1.8">+</tspan><tspan dy="1.8"> (=R2+R3)</tspan></text>
<line x1="417.9" y1="28.5" x2="419.5" y2="28.5" stroke="#333" stroke-width="0.7"/><line x1="418.6" y1="24.8" x2="419.5" y2="24.8" stroke="#333" stroke-width="0.5"/><line x1="417.9" y1="41.3" x2="419.5" y2="41.3" stroke="#333" stroke-width="0.7"/><line x1="418.6" y1="37.6" x2="419.5" y2="37.6" stroke="#333" stroke-width="0.5"/><line x1="418.6" y1="35.4" x2="419.5" y2="35.4" stroke="#333" stroke-width="0.5"/><line x1="418.6" y1="33.9" x2="419.5" y2="33.9" stroke="#333" stroke-width="0.5"/><line x1="418.6" y1="32.7" x2="419.5" y2="32.7" stroke="#333" stroke-width="0.5"/><line x1="418.6" y1="31.7" x2="419.5" y2="31.7" stroke="#333" stroke-width="0.5"/><line x1="418.6" y1="30.9" x2="419.5" y2="30.9" stroke="#333" stroke-width="0.5"/><line x1="418.6" y1="30.2" x2="419.5" y2="30.2" stroke="#333" stroke-width="0.5"/><line x1="418.6" y1="29.6" x2="419.5" y2="29.6" stroke="#333" stroke-width="0.5"/><line x1="417.9" y1="54.1" x2="419.5" y2="54.1" stroke="#333" stroke-width="0.7"/><line x1="418.6" y1="50.4" x2="419.5" y2="50.4" stroke="#333" stroke-width="0.5"/><line x1="418.6" y1="48.2" x2="419.5" y2="48.2" stroke="#333" stroke-width="0.5"/><line x1="418.6" y1="46.7" x2="419.5" y2="46.7" stroke="#333" stroke-width="0.5"/><line x1="418.6" y1="45.5" x2="419.5" y2="45.5" stroke="#333" stroke-width="0.5"/><line x1="418.6" y1="44.5" x2="419.5" y2="44.5" stroke="#333" stroke-width="0.5"/><line x1="418.6" y1="43.7" x2="419.5" y2="43.7" stroke="#333" stroke-width="0.5"/><line x1="418.6" y1="43.0" x2="419.5" y2="43.0" stroke="#333" stroke-width="0.5"/><line x1="418.6" y1="42.4" x2="419.5" y2="42.4" stroke="#333" stroke-width="0.5"/><line x1="417.9" y1="65.2" x2="419.5" y2="65.2" stroke="#333" stroke-width="0.7"/><line x1="418.6" y1="61.5" x2="419.5" y2="61.5" stroke="#333" stroke-width="0.5"/><line x1="418.6" y1="59.3" x2="419.5" y2="59.3" stroke="#333" stroke-width="0.5"/><line x1="418.6" y1="57.8" x2="419.5" y2="57.8" stroke="#333" stroke-width="0.5"/><line x1="418.6" y1="56.6" x2="419.5" y2="56.6" stroke="#333" stroke-width="0.5"/><line x1="418.6" y1="55.6" x2="419.5" y2="55.6" stroke="#333" stroke-width="0.5"/><line x1="418.6" y1="54.8" x2="419.5" y2="54.8" stroke="#333" stroke-width="0.5"/><line x1="418.6" y1="54.1" x2="419.5" y2="54.1" stroke="#333" stroke-width="0.5"/><line x1="418.6" y1="53.5" x2="419.5" y2="53.5" stroke="#333" stroke-width="0.5"/><line x1="418.6" y1="73.8" x2="419.5" y2="73.8" stroke="#333" stroke-width="0.5"/><line x1="418.6" y1="71.6" x2="419.5" y2="71.6" stroke="#333" stroke-width="0.5"/><line x1="418.6" y1="70.1" x2="419.5" y2="70.1" stroke="#333" stroke-width="0.5"/><line x1="418.6" y1="68.9" x2="419.5" y2="68.9" stroke="#333" stroke-width="0.5"/><line x1="418.6" y1="67.9" x2="419.5" y2="67.9" stroke="#333" stroke-width="0.5"/><line x1="418.6" y1="67.1" x2="419.5" y2="67.1" stroke="#333" stroke-width="0.5"/><line x1="418.6" y1="66.4" x2="419.5" y2="66.4" stroke="#333" stroke-width="0.5"/><line x1="418.6" y1="65.8" x2="419.5" y2="65.8" stroke="#333" stroke-width="0.5"/>
<line x1="421.2" y1="74.7" x2="421.2" y2="75.6" stroke="#333" stroke-width="0.5"/><line x1="423.6" y1="74.7" x2="423.6" y2="75.6" stroke="#333" stroke-width="0.5"/><line x1="425.5" y1="74.7" x2="425.5" y2="75.6" stroke="#333" stroke-width="0.5"/><line x1="427.1" y1="74.7" x2="427.1" y2="75.6" stroke="#333" stroke-width="0.5"/><line x1="428.4" y1="74.7" x2="428.4" y2="75.6" stroke="#333" stroke-width="0.5"/><line x1="429.5" y1="74.7" x2="429.5" y2="75.6" stroke="#333" stroke-width="0.5"/><line x1="430.5" y1="74.7" x2="430.5" y2="75.6" stroke="#333" stroke-width="0.5"/><line x1="431.4" y1="74.7" x2="431.4" y2="76.3" stroke="#333" stroke-width="0.7"/><line x1="437.3" y1="74.7" x2="437.3" y2="75.6" stroke="#333" stroke-width="0.5"/><line x1="440.8" y1="74.7" x2="440.8" y2="75.6" stroke="#333" stroke-width="0.5"/><line x1="443.2" y1="74.7" x2="443.2" y2="75.6" stroke="#333" stroke-width="0.5"/><line x1="445.1" y1="74.7" x2="445.1" y2="75.6" stroke="#333" stroke-width="0.5"/><line x1="446.7" y1="74.7" x2="446.7" y2="75.6" stroke="#333" stroke-width="0.5"/><line x1="448.0" y1="74.7" x2="448.0" y2="75.6" stroke="#333" stroke-width="0.5"/><line x1="449.1" y1="74.7" x2="449.1" y2="75.6" stroke="#333" stroke-width="0.5"/><line x1="450.1" y1="74.7" x2="450.1" y2="75.6" stroke="#333" stroke-width="0.5"/><line x1="451.3" y1="74.7" x2="451.3" y2="76.3" stroke="#333" stroke-width="0.7"/><line x1="457.2" y1="74.7" x2="457.2" y2="75.6" stroke="#333" stroke-width="0.5"/><line x1="460.7" y1="74.7" x2="460.7" y2="75.6" stroke="#333" stroke-width="0.5"/><line x1="463.1" y1="74.7" x2="463.1" y2="75.6" stroke="#333" stroke-width="0.5"/><line x1="465.0" y1="74.7" x2="465.0" y2="75.6" stroke="#333" stroke-width="0.5"/><line x1="466.6" y1="74.7" x2="466.6" y2="75.6" stroke="#333" stroke-width="0.5"/><line x1="467.9" y1="74.7" x2="467.9" y2="75.6" stroke="#333" stroke-width="0.5"/><line x1="469.0" y1="74.7" x2="469.0" y2="75.6" stroke="#333" stroke-width="0.5"/><line x1="470.0" y1="74.7" x2="470.0" y2="75.6" stroke="#333" stroke-width="0.5"/><line x1="470.4" y1="74.7" x2="470.4" y2="76.3" stroke="#333" stroke-width="0.7"/><line x1="476.3" y1="74.7" x2="476.3" y2="75.6" stroke="#333" stroke-width="0.5"/><line x1="479.8" y1="74.7" x2="479.8" y2="75.6" stroke="#333" stroke-width="0.5"/><line x1="482.2" y1="74.7" x2="482.2" y2="75.6" stroke="#333" stroke-width="0.5"/><line x1="484.1" y1="74.7" x2="484.1" y2="75.6" stroke="#333" stroke-width="0.5"/><line x1="485.7" y1="74.7" x2="485.7" y2="75.6" stroke="#333" stroke-width="0.5"/><line x1="487.0" y1="74.7" x2="487.0" y2="75.6" stroke="#333" stroke-width="0.5"/><line x1="488.1" y1="74.7" x2="488.1" y2="75.6" stroke="#333" stroke-width="0.5"/><line x1="489.1" y1="74.7" x2="489.1" y2="75.6" stroke="#333" stroke-width="0.5"/><line x1="490.3" y1="74.7" x2="490.3" y2="76.3" stroke="#333" stroke-width="0.7"/><line x1="496.2" y1="74.7" x2="496.2" y2="75.6" stroke="#333" stroke-width="0.5"/><line x1="499.7" y1="74.7" x2="499.7" y2="75.6" stroke="#333" stroke-width="0.5"/>
<text transform="translate(414.6,65.2) rotate(-90)" font-size="3.9" text-anchor="middle" fill="#222">10<tspan dy="-1.3" font-size="2.81">1</tspan></text>
<text transform="translate(414.6,54.1) rotate(-90)" font-size="3.9" text-anchor="middle" fill="#222">10<tspan dy="-1.3" font-size="2.81">2</tspan></text>
<text transform="translate(414.6,41.3) rotate(-90)" font-size="3.9" text-anchor="middle" fill="#222">10<tspan dy="-1.3" font-size="2.81">3</tspan></text>
<text transform="translate(414.6,28.5) rotate(-90)" font-size="3.9" text-anchor="middle" fill="#222">10<tspan dy="-1.3" font-size="2.81">4</tspan></text>
<text x="431.4" y="81.6" font-size="3.9" text-anchor="middle" fill="#222">10<tspan dy="-1.3" font-size="2.81">1</tspan></text>
<text x="451.3" y="81.6" font-size="3.9" text-anchor="middle" fill="#222">10<tspan dy="-1.3" font-size="2.81">2</tspan></text>
<text x="470.4" y="81.6" font-size="3.9" text-anchor="middle" fill="#222">10<tspan dy="-1.3" font-size="2.81">3</tspan></text>
<text x="490.3" y="81.6" font-size="3.9" text-anchor="middle" fill="#222">10<tspan dy="-1.3" font-size="2.81">4</tspan></text>
<text transform="translate(406.8,58.8) rotate(-90)" font-size="6.1" font-weight="bold" text-anchor="middle" fill="#111" stroke="#111" stroke-width="0.3">CD45RA</text>
<line x1="404.6" y1="28.5" x2="404.6" y2="41.2" stroke="#111" stroke-width="1.3"/><path d="M404.6 23.5 L401.8 29.5 L407.40000000000003 29.5Z" fill="#111"/>
<text x="456.5" y="92" font-size="6.5" font-weight="bold" text-anchor="start" fill="#111" stroke="#111" stroke-width="0.3" >CD45RO</text>
<line x1="487" y1="89.7" x2="494.5" y2="89.7" stroke="#111" stroke-width="1.3"/><path d="M499.5 89.7 L493.5 86.7 L493.5 92.7Z" fill="#111"/>
<text x="1.3" y="140" font-size="11.2" font-weight="bold" text-anchor="start" fill="#111" stroke="#111" stroke-width="0.3" >B</text>
<rect x="24.4" y="183.5" width="8.4" height="4.9" fill="#2a3cf0" stroke="#101030" stroke-width="0.9"/>
<rect x="24.4" y="207.5" width="8.4" height="4.9" fill="#f01838" stroke="#300808" stroke-width="0.9"/>
<text x="0" y="0" font-size="6.9" font-weight="bold" text-anchor="start" fill="#111" stroke="#111" stroke-width="0.3" transform="translate(39.5,188.1) scale(0.94,1)">CD4<tspan font-size="4.2" dy="-3.1">+</tspan><tspan dy="3.1">CD25</tspan><tspan font-size="4.2" dy="-3.1">+</tspan><tspan dy="3.1">FOXP3</tspan><tspan font-size="4.2" dy="-3.1">+</tspan><tspan dy="3.1">CD45RO</tspan><tspan font-size="3.9" dy="-2.4">hi</tspan></text>
<text x="0" y="0" font-size="6.9" font-weight="bold" text-anchor="start" fill="#111" stroke="#111" stroke-width="0.3" transform="translate(39.5,212.1) scale(0.94,1)">CD4<tspan font-size="4.2" dy="-3.1">+</tspan><tspan dy="3.1">CD25</tspan><tspan font-size="4.2" dy="-3.1">+</tspan><tspan dy="3.1">FOXP3</tspan><tspan font-size="4.2" dy="-3.1">+</tspan><tspan dy="3.1">CD45RO</tspan><tspan font-size="3.9" dy="-2.4">lo</tspan></text>
<text x="176.0" y="124.3" font-size="6.6" font-weight="bold" text-anchor="start" fill="#111" stroke="#111" stroke-width="0.3" >&quot; back&quot; gating</text>
<line x1="222.8" y1="112.9" x2="222.8" y2="135.1" stroke="#111" stroke-width="1.3"/><path d="M222.8 140.1 L219.8 134.1 L225.8 134.1Z" fill="#111"/>
<g filter="url(#bl)"><path fill="#c2c6c6" fill-opacity="0.55" d="M201 182h1v1h-1zM210 194h1v1h-1zM201 198h1v1h-1zM210 198h1v1h-1zM214 198h1v1h-1zM215 198h1v1h-1zM211 199h1v1h-1zM207 202h1v1h-1zM187 203h1v1h-1zM205 203h1v1h-1zM215 203h1v1h-1zM216 203h1v1h-1zM202 204h1v1h-1zM180 205h1v1h-1zM204 206h1v1h-1zM217 206h1v1h-1zM204 207h1v1h-1zM191 208h1v1h-1zM195 208h1v1h-1zM206 209h1v1h-1zM193 210h1v1h-1zM195 210h1v1h-1zM217 210h1v1h-1zM181 213h1v1h-1zM220 215h1v1h-1zM188 216h1v1h-1zM190 216h1v1h-1zM205 216h1v1h-1zM208 216h1v1h-1zM180 217h1v1h-1zM198 218h1v1h-1zM200 218h1v1h-1zM201 218h1v1h-1zM205 218h1v1h-1zM207 218h1v1h-1zM171 220h1v1h-1zM195 220h1v1h-1zM216 220h1v1h-1zM180 221h1v1h-1zM181 221h1v1h-1zM185 222h1v1h-1zM191 222h1v1h-1zM200 222h1v1h-1zM217 223h1v1h-1zM168 224h1v1h-1zM172 224h1v1h-1zM176 224h1v1h-1zM178 224h1v1h-1zM180 224h1v1h-1zM186 224h1v1h-1zM218 224h1v1h-1zM171 225h1v1h-1zM186 225h1v1h-1zM192 225h1v1h-1zM173 226h1v1h-1zM187 226h1v1h-1zM190 226h1v1h-1zM193 226h1v1h-1zM206 226h1v1h-1zM185 227h1v1h-1zM190 227h1v1h-1zM198 227h1v1h-1zM188 228h1v1h-1zM198 228h1v1h-1zM218 228h1v1h-1zM207 229h1v1h-1zM208 229h1v1h-1zM195 230h1v1h-1zM197 230h1v1h-1zM169 231h1v1h-1zM171 231h1v1h-1zM192 231h1v1h-1zM208 231h1v1h-1zM215 231h1v1h-1zM199 232h1v1h-1zM208 232h1v1h-1zM200 233h1v1h-1zM203 233h1v1h-1zM206 233h1v1h-1zM208 233h1v1h-1zM216 233h1v1h-1zM192 234h1v1h-1zM202 234h1v1h-1zM208 235h1v1h-1zM170 236h1v1h-1zM189 236h1v1h-1zM190 236h1v1h-1zM198 236h1v1h-1zM171 237h1v1h-1zM194 237h1v1h-1zM199 237h1v1h-1zM208 237h1v1h-1zM216 237h1v1h-1zM171 238h1v1h-1zM173 238h1v1h-1zM193 238h1v1h-1zM208 238h1v1h-1zM220 238h1v1h-1zM172 239h1v1h-1zM191 239h1v1h-1zM196 239h1v1h-1zM197 239h1v1h-1zM172 240h1v1h-1zM189 240h1v1h-1zM194 240h1v1h-1zM198 240h1v1h-1zM199 240h1v1h-1zM202 240h1v1h-1zM169 241h1v1h-1zM172 241h1v1h-1zM185 241h1v1h-1zM195 241h1v1h-1zM186 242h1v1h-1zM189 242h1v1h-1zM207 242h1v1h-1zM216 242h1v1h-1zM181 243h1v1h-1zM185 243h1v1h-1zM187 243h1v1h-1zM193 243h1v1h-1zM223 243h1v1h-1z"/>
<path fill="#c2c6c6" fill-opacity="0.70" d="M212 194h1v1h-1zM185 195h1v1h-1zM196 195h1v1h-1zM208 196h1v1h-1zM185 197h1v1h-1zM188 197h1v1h-1zM213 198h1v1h-1zM210 199h1v1h-1zM185 200h1v1h-1zM170 201h1v1h-1zM193 201h1v1h-1zM196 201h1v1h-1zM209 201h1v1h-1zM203 202h1v1h-1zM212 202h1v1h-1zM215 202h1v1h-1zM207 203h1v1h-1zM192 204h1v1h-1zM203 204h1v1h-1zM209 204h1v1h-1zM210 204h1v1h-1zM205 205h1v1h-1zM209 205h1v1h-1zM215 205h1v1h-1zM195 206h1v1h-1zM198 206h1v1h-1zM214 206h1v1h-1zM209 207h1v1h-1zM215 207h1v1h-1zM208 208h1v1h-1zM209 209h1v1h-1zM216 209h1v1h-1zM214 210h1v1h-1zM172 211h1v1h-1zM176 211h1v1h-1zM207 211h1v1h-1zM214 211h1v1h-1zM183 212h1v1h-1zM190 212h1v1h-1zM200 212h1v1h-1zM207 213h1v1h-1zM208 213h1v1h-1zM209 213h1v1h-1zM216 213h1v1h-1zM180 214h1v1h-1zM217 214h1v1h-1zM220 214h1v1h-1zM175 215h1v1h-1zM177 215h1v1h-1zM205 215h1v1h-1zM208 215h1v1h-1zM215 215h1v1h-1zM174 216h1v1h-1zM183 216h1v1h-1zM207 216h1v1h-1zM209 216h1v1h-1zM183 217h1v1h-1zM188 217h1v1h-1zM193 217h1v1h-1zM194 217h1v1h-1zM179 218h1v1h-1zM186 218h1v1h-1zM214 218h1v1h-1zM187 219h1v1h-1zM215 219h1v1h-1zM188 220h1v1h-1zM192 220h1v1h-1zM204 220h1v1h-1zM214 220h1v1h-1zM168 221h1v1h-1zM179 221h1v1h-1zM183 221h1v1h-1zM186 221h1v1h-1zM187 221h1v1h-1zM200 221h1v1h-1zM204 221h1v1h-1zM207 221h1v1h-1zM214 221h1v1h-1zM215 221h1v1h-1zM168 222h1v1h-1zM169 222h1v1h-1zM180 222h1v1h-1zM196 222h1v1h-1zM197 222h1v1h-1zM204 222h1v1h-1zM208 222h1v1h-1zM173 223h1v1h-1zM179 223h1v1h-1zM183 223h1v1h-1zM185 223h1v1h-1zM194 223h1v1h-1zM208 223h1v1h-1zM215 223h1v1h-1zM216 223h1v1h-1zM218 223h1v1h-1zM174 224h1v1h-1zM175 224h1v1h-1zM181 224h1v1h-1zM189 224h1v1h-1zM190 224h1v1h-1zM193 224h1v1h-1zM206 224h1v1h-1zM208 224h1v1h-1zM215 224h1v1h-1zM169 225h1v1h-1zM170 225h1v1h-1zM172 225h1v1h-1zM177 225h1v1h-1zM179 225h1v1h-1zM181 225h1v1h-1zM182 225h1v1h-1zM185 225h1v1h-1zM209 225h1v1h-1zM177 226h1v1h-1zM178 226h1v1h-1zM183 226h1v1h-1zM186 226h1v1h-1zM201 226h1v1h-1zM209 226h1v1h-1zM214 226h1v1h-1zM172 227h1v1h-1zM181 227h1v1h-1zM183 227h1v1h-1zM193 227h1v1h-1zM207 227h1v1h-1zM208 227h1v1h-1zM209 227h1v1h-1zM171 228h1v1h-1zM175 228h1v1h-1zM176 228h1v1h-1zM177 228h1v1h-1zM180 228h1v1h-1zM183 228h1v1h-1zM184 228h1v1h-1zM185 228h1v1h-1zM189 228h1v1h-1zM190 228h1v1h-1zM191 228h1v1h-1zM192 228h1v1h-1zM196 228h1v1h-1zM201 228h1v1h-1zM209 228h1v1h-1zM171 229h1v1h-1zM176 229h1v1h-1zM177 229h1v1h-1zM185 229h1v1h-1zM186 229h1v1h-1zM187 229h1v1h-1zM190 229h1v1h-1zM194 229h1v1h-1zM169 230h1v1h-1zM173 230h1v1h-1zM175 230h1v1h-1zM190 230h1v1h-1zM214 230h1v1h-1zM215 230h1v1h-1zM193 231h1v1h-1zM206 231h1v1h-1zM214 231h1v1h-1zM173 232h1v1h-1zM188 232h1v1h-1zM191 232h1v1h-1zM196 232h1v1h-1zM206 232h1v1h-1zM209 232h1v1h-1zM214 232h1v1h-1zM218 232h1v1h-1zM173 233h1v1h-1zM202 233h1v1h-1zM207 233h1v1h-1zM174 234h1v1h-1zM214 234h1v1h-1zM168 235h1v1h-1zM171 235h1v1h-1zM188 235h1v1h-1zM193 235h1v1h-1zM196 235h1v1h-1zM198 235h1v1h-1zM200 235h1v1h-1zM202 235h1v1h-1zM209 235h1v1h-1zM214 235h1v1h-1zM215 235h1v1h-1zM174 236h1v1h-1zM191 236h1v1h-1zM209 236h1v1h-1zM172 237h1v1h-1zM173 237h1v1h-1zM187 237h1v1h-1zM192 237h1v1h-1zM193 237h1v1h-1zM207 237h1v1h-1zM214 237h1v1h-1zM215 237h1v1h-1zM175 238h1v1h-1zM186 238h1v1h-1zM188 238h1v1h-1zM207 238h1v1h-1zM169 239h1v1h-1zM185 239h1v1h-1zM187 239h1v1h-1zM188 239h1v1h-1zM189 239h1v1h-1zM193 239h1v1h-1zM208 239h1v1h-1zM217 239h1v1h-1zM170 240h1v1h-1zM171 240h1v1h-1zM173 240h1v1h-1zM178 240h1v1h-1zM179 240h1v1h-1zM185 240h1v1h-1zM187 240h1v1h-1zM192 240h1v1h-1zM197 240h1v1h-1zM200 240h1v1h-1zM205 240h1v1h-1zM209 240h1v1h-1zM215 240h1v1h-1zM168 241h1v1h-1zM170 241h1v1h-1zM173 241h1v1h-1zM178 241h1v1h-1zM184 241h1v1h-1zM188 241h1v1h-1zM196 241h1v1h-1zM215 241h1v1h-1zM168 242h1v1h-1zM169 242h1v1h-1zM180 242h1v1h-1zM182 242h1v1h-1zM185 242h1v1h-1zM190 242h1v1h-1zM196 242h1v1h-1zM209 242h1v1h-1zM169 243h1v1h-1zM178 243h1v1h-1zM189 243h1v1h-1zM190 243h1v1h-1zM191 243h1v1h-1zM192 243h1v1h-1zM194 243h1v1h-1zM196 243h1v1h-1zM197 243h1v1h-1zM214 243h1v1h-1zM215 243h1v1h-1zM216 243h1v1h-1z"/>
<path fill="#c2c6c6" fill-opacity="0.85" d="M204 188h1v1h-1zM197 189h1v1h-1zM193 190h1v1h-1zM209 194h1v1h-1zM211 195h1v1h-1zM169 196h1v1h-1zM198 196h1v1h-1zM218 196h1v1h-1zM220 196h1v1h-1zM209 197h1v1h-1zM211 198h1v1h-1zM212 198h1v1h-1zM216 198h1v1h-1zM194 199h1v1h-1zM212 199h1v1h-1zM216 199h1v1h-1zM210 200h1v1h-1zM213 200h1v1h-1zM205 201h1v1h-1zM214 201h1v1h-1zM211 202h1v1h-1zM209 203h1v1h-1zM212 203h1v1h-1zM213 203h1v1h-1zM178 204h1v1h-1zM204 204h1v1h-1zM208 204h1v1h-1zM211 204h1v1h-1zM212 204h1v1h-1zM192 205h1v1h-1zM196 205h1v1h-1zM203 205h1v1h-1zM204 205h1v1h-1zM210 205h1v1h-1zM214 205h1v1h-1zM192 206h1v1h-1zM208 206h1v1h-1zM210 206h1v1h-1zM213 206h1v1h-1zM194 207h1v1h-1zM213 207h1v1h-1zM214 207h1v1h-1zM218 207h1v1h-1zM204 208h1v1h-1zM209 208h1v1h-1zM210 208h1v1h-1zM213 208h1v1h-1zM216 208h1v1h-1zM210 209h1v1h-1zM213 209h1v1h-1zM217 209h1v1h-1zM219 209h1v1h-1zM187 210h1v1h-1zM209 210h1v1h-1zM210 210h1v1h-1zM213 210h1v1h-1zM215 210h1v1h-1zM180 211h1v1h-1zM210 211h1v1h-1zM193 212h1v1h-1zM205 212h1v1h-1zM208 212h1v1h-1zM210 212h1v1h-1zM213 212h1v1h-1zM218 212h1v1h-1zM171 213h1v1h-1zM172 213h1v1h-1zM177 213h1v1h-1zM180 213h1v1h-1zM210 213h1v1h-1zM213 213h1v1h-1zM215 213h1v1h-1zM178 214h1v1h-1zM185 214h1v1h-1zM186 214h1v1h-1zM193 214h1v1h-1zM201 214h1v1h-1zM206 214h1v1h-1zM210 214h1v1h-1zM214 214h1v1h-1zM206 215h1v1h-1zM209 215h1v1h-1zM210 215h1v1h-1zM213 215h1v1h-1zM214 215h1v1h-1zM185 216h1v1h-1zM191 216h1v1h-1zM206 216h1v1h-1zM210 216h1v1h-1zM213 216h1v1h-1zM217 216h1v1h-1zM177 217h1v1h-1zM179 217h1v1h-1zM186 217h1v1h-1zM191 217h1v1h-1zM207 217h1v1h-1zM210 217h1v1h-1zM213 217h1v1h-1zM173 218h1v1h-1zM184 218h1v1h-1zM189 218h1v1h-1zM192 218h1v1h-1zM193 218h1v1h-1zM210 218h1v1h-1zM213 218h1v1h-1zM215 218h1v1h-1zM217 218h1v1h-1zM219 218h1v1h-1zM178 219h1v1h-1zM182 219h1v1h-1zM183 219h1v1h-1zM209 219h1v1h-1zM213 219h1v1h-1zM216 219h1v1h-1zM175 220h1v1h-1zM176 220h1v1h-1zM179 220h1v1h-1zM180 220h1v1h-1zM207 220h1v1h-1zM210 220h1v1h-1zM213 220h1v1h-1zM215 220h1v1h-1zM219 220h1v1h-1zM176 221h1v1h-1zM188 221h1v1h-1zM192 221h1v1h-1zM209 221h1v1h-1zM210 221h1v1h-1zM213 221h1v1h-1zM216 221h1v1h-1zM170 222h1v1h-1zM176 222h1v1h-1zM178 222h1v1h-1zM182 222h1v1h-1zM184 222h1v1h-1zM186 222h1v1h-1zM194 222h1v1h-1zM195 222h1v1h-1zM198 222h1v1h-1zM206 222h1v1h-1zM213 222h1v1h-1zM214 222h1v1h-1zM215 222h1v1h-1zM181 223h1v1h-1zM182 223h1v1h-1zM186 223h1v1h-1zM189 223h1v1h-1zM193 223h1v1h-1zM199 223h1v1h-1zM213 223h1v1h-1zM214 223h1v1h-1zM169 224h1v1h-1zM179 224h1v1h-1zM185 224h1v1h-1zM202 224h1v1h-1zM210 224h1v1h-1zM180 225h1v1h-1zM184 225h1v1h-1zM196 225h1v1h-1zM208 225h1v1h-1zM214 225h1v1h-1zM215 225h1v1h-1zM216 225h1v1h-1zM174 226h1v1h-1zM175 226h1v1h-1zM176 226h1v1h-1zM179 226h1v1h-1zM181 226h1v1h-1zM182 226h1v1h-1zM189 226h1v1h-1zM196 226h1v1h-1zM208 226h1v1h-1zM213 226h1v1h-1zM215 226h1v1h-1zM178 227h1v1h-1zM180 227h1v1h-1zM182 227h1v1h-1zM184 227h1v1h-1zM186 227h1v1h-1zM187 227h1v1h-1zM188 227h1v1h-1zM191 227h1v1h-1zM204 227h1v1h-1zM213 227h1v1h-1zM214 227h1v1h-1zM174 228h1v1h-1zM178 228h1v1h-1zM179 228h1v1h-1zM181 228h1v1h-1zM186 228h1v1h-1zM194 228h1v1h-1zM197 228h1v1h-1zM200 228h1v1h-1zM207 228h1v1h-1zM213 228h1v1h-1zM214 228h1v1h-1zM216 228h1v1h-1zM168 229h1v1h-1zM169 229h1v1h-1zM172 229h1v1h-1zM174 229h1v1h-1zM175 229h1v1h-1zM180 229h1v1h-1zM181 229h1v1h-1zM182 229h1v1h-1zM191 229h1v1h-1zM213 229h1v1h-1zM170 230h1v1h-1zM171 230h1v1h-1zM176 230h1v1h-1zM177 230h1v1h-1zM178 230h1v1h-1zM179 230h1v1h-1zM184 230h1v1h-1zM185 230h1v1h-1zM187 230h1v1h-1zM189 230h1v1h-1zM206 230h1v1h-1zM208 230h1v1h-1zM213 230h1v1h-1zM174 231h1v1h-1zM176 231h1v1h-1zM177 231h1v1h-1zM185 231h1v1h-1zM188 231h1v1h-1zM190 231h1v1h-1zM195 231h1v1h-1zM207 231h1v1h-1zM213 231h1v1h-1zM218 231h1v1h-1zM168 232h1v1h-1zM169 232h1v1h-1zM170 232h1v1h-1zM171 232h1v1h-1zM172 232h1v1h-1zM175 232h1v1h-1zM176 232h1v1h-1zM185 232h1v1h-1zM186 232h1v1h-1zM189 232h1v1h-1zM193 232h1v1h-1zM194 232h1v1h-1zM195 232h1v1h-1zM210 232h1v1h-1zM213 232h1v1h-1zM215 232h1v1h-1zM169 233h1v1h-1zM170 233h1v1h-1zM172 233h1v1h-1zM174 233h1v1h-1zM175 233h1v1h-1zM176 233h1v1h-1zM186 233h1v1h-1zM187 233h1v1h-1zM189 233h1v1h-1zM210 233h1v1h-1zM213 233h1v1h-1zM215 233h1v1h-1zM173 234h1v1h-1zM175 234h1v1h-1zM176 234h1v1h-1zM186 234h1v1h-1zM187 234h1v1h-1zM193 234h1v1h-1zM194 234h1v1h-1zM195 234h1v1h-1zM207 234h1v1h-1zM208 234h1v1h-1zM210 234h1v1h-1zM213 234h1v1h-1zM215 234h1v1h-1zM220 234h1v1h-1zM169 235h1v1h-1zM170 235h1v1h-1zM172 235h1v1h-1zM174 235h1v1h-1zM175 235h1v1h-1zM176 235h1v1h-1zM187 235h1v1h-1zM189 235h1v1h-1zM192 235h1v1h-1zM197 235h1v1h-1zM203 235h1v1h-1zM207 235h1v1h-1zM210 235h1v1h-1zM213 235h1v1h-1zM171 236h1v1h-1zM172 236h1v1h-1zM176 236h1v1h-1zM186 236h1v1h-1zM187 236h1v1h-1zM188 236h1v1h-1zM193 236h1v1h-1zM196 236h1v1h-1zM207 236h1v1h-1zM210 236h1v1h-1zM213 236h1v1h-1zM214 236h1v1h-1zM168 237h1v1h-1zM169 237h1v1h-1zM174 237h1v1h-1zM176 237h1v1h-1zM177 237h1v1h-1zM185 237h1v1h-1zM186 237h1v1h-1zM188 237h1v1h-1zM191 237h1v1h-1zM205 237h1v1h-1zM210 237h1v1h-1zM176 238h1v1h-1zM177 238h1v1h-1zM178 238h1v1h-1zM183 238h1v1h-1zM184 238h1v1h-1zM185 238h1v1h-1zM187 238h1v1h-1zM205 238h1v1h-1zM206 238h1v1h-1zM210 238h1v1h-1zM213 238h1v1h-1zM215 238h1v1h-1zM173 239h1v1h-1zM175 239h1v1h-1zM176 239h1v1h-1zM177 239h1v1h-1zM178 239h1v1h-1zM179 239h1v1h-1zM180 239h1v1h-1zM182 239h1v1h-1zM183 239h1v1h-1zM186 239h1v1h-1zM206 239h1v1h-1zM210 239h1v1h-1zM214 239h1v1h-1zM169 240h1v1h-1zM175 240h1v1h-1zM176 240h1v1h-1zM180 240h1v1h-1zM181 240h1v1h-1zM208 240h1v1h-1zM210 240h1v1h-1zM213 240h1v1h-1zM175 241h1v1h-1zM177 241h1v1h-1zM179 241h1v1h-1zM180 241h1v1h-1zM181 241h1v1h-1zM183 241h1v1h-1zM192 241h1v1h-1zM206 241h1v1h-1zM208 241h1v1h-1zM209 241h1v1h-1zM210 241h1v1h-1zM213 241h1v1h-1zM214 241h1v1h-1zM219 241h1v1h-1zM173 242h1v1h-1zM174 242h1v1h-1zM178 242h1v1h-1zM179 242h1v1h-1zM181 242h1v1h-1zM183 242h1v1h-1zM192 242h1v1h-1zM193 242h1v1h-1zM195 242h1v1h-1zM208 242h1v1h-1zM210 242h1v1h-1zM213 242h1v1h-1zM214 242h1v1h-1zM179 243h1v1h-1zM180 243h1v1h-1zM186 243h1v1h-1zM206 243h1v1h-1zM208 243h1v1h-1zM209 243h1v1h-1zM210 243h1v1h-1zM213 243h1v1h-1z"/>
<path fill="#c2c6c6" fill-opacity="1.00" d="M219 193h1v1h-1zM212 195h1v1h-1zM214 195h1v1h-1zM208 198h1v1h-1zM189 200h1v1h-1zM208 201h1v1h-1zM213 201h1v1h-1zM214 202h1v1h-1zM211 203h1v1h-1zM214 203h1v1h-1zM213 204h1v1h-1zM188 205h1v1h-1zM211 205h1v1h-1zM212 205h1v1h-1zM205 206h1v1h-1zM209 206h1v1h-1zM211 206h1v1h-1zM212 206h1v1h-1zM207 207h1v1h-1zM208 207h1v1h-1zM210 207h1v1h-1zM211 207h1v1h-1zM212 207h1v1h-1zM211 208h1v1h-1zM212 208h1v1h-1zM204 209h1v1h-1zM211 209h1v1h-1zM212 209h1v1h-1zM211 210h1v1h-1zM212 210h1v1h-1zM185 211h1v1h-1zM188 211h1v1h-1zM208 211h1v1h-1zM211 211h1v1h-1zM212 211h1v1h-1zM213 211h1v1h-1zM206 212h1v1h-1zM211 212h1v1h-1zM212 212h1v1h-1zM214 212h1v1h-1zM204 213h1v1h-1zM211 213h1v1h-1zM212 213h1v1h-1zM218 213h1v1h-1zM170 214h1v1h-1zM207 214h1v1h-1zM209 214h1v1h-1zM211 214h1v1h-1zM212 214h1v1h-1zM213 214h1v1h-1zM170 215h1v1h-1zM172 215h1v1h-1zM207 215h1v1h-1zM211 215h1v1h-1zM212 215h1v1h-1zM180 216h1v1h-1zM197 216h1v1h-1zM211 216h1v1h-1zM212 216h1v1h-1zM175 217h1v1h-1zM181 217h1v1h-1zM189 217h1v1h-1zM202 217h1v1h-1zM204 217h1v1h-1zM206 217h1v1h-1zM211 217h1v1h-1zM212 217h1v1h-1zM214 217h1v1h-1zM177 218h1v1h-1zM182 218h1v1h-1zM187 218h1v1h-1zM188 218h1v1h-1zM209 218h1v1h-1zM211 218h1v1h-1zM212 218h1v1h-1zM196 219h1v1h-1zM200 219h1v1h-1zM201 219h1v1h-1zM208 219h1v1h-1zM210 219h1v1h-1zM211 219h1v1h-1zM212 219h1v1h-1zM177 220h1v1h-1zM184 220h1v1h-1zM187 220h1v1h-1zM211 220h1v1h-1zM212 220h1v1h-1zM217 220h1v1h-1zM169 221h1v1h-1zM208 221h1v1h-1zM211 221h1v1h-1zM212 221h1v1h-1zM179 222h1v1h-1zM183 222h1v1h-1zM203 222h1v1h-1zM210 222h1v1h-1zM211 222h1v1h-1zM212 222h1v1h-1zM168 223h1v1h-1zM184 223h1v1h-1zM188 223h1v1h-1zM191 223h1v1h-1zM210 223h1v1h-1zM211 223h1v1h-1zM212 223h1v1h-1zM182 224h1v1h-1zM199 224h1v1h-1zM209 224h1v1h-1zM211 224h1v1h-1zM212 224h1v1h-1zM213 224h1v1h-1zM214 224h1v1h-1zM183 225h1v1h-1zM187 225h1v1h-1zM188 225h1v1h-1zM193 225h1v1h-1zM210 225h1v1h-1zM211 225h1v1h-1zM212 225h1v1h-1zM213 225h1v1h-1zM168 226h1v1h-1zM180 226h1v1h-1zM184 226h1v1h-1zM210 226h1v1h-1zM211 226h1v1h-1zM212 226h1v1h-1zM169 227h1v1h-1zM177 227h1v1h-1zM189 227h1v1h-1zM196 227h1v1h-1zM206 227h1v1h-1zM210 227h1v1h-1zM211 227h1v1h-1zM212 227h1v1h-1zM168 228h1v1h-1zM182 228h1v1h-1zM187 228h1v1h-1zM210 228h1v1h-1zM211 228h1v1h-1zM212 228h1v1h-1zM178 229h1v1h-1zM188 229h1v1h-1zM197 229h1v1h-1zM209 229h1v1h-1zM210 229h1v1h-1zM211 229h1v1h-1zM212 229h1v1h-1zM214 229h1v1h-1zM215 229h1v1h-1zM168 230h1v1h-1zM180 230h1v1h-1zM181 230h1v1h-1zM182 230h1v1h-1zM183 230h1v1h-1zM210 230h1v1h-1zM211 230h1v1h-1zM212 230h1v1h-1zM173 231h1v1h-1zM175 231h1v1h-1zM178 231h1v1h-1zM179 231h1v1h-1zM180 231h1v1h-1zM181 231h1v1h-1zM182 231h1v1h-1zM183 231h1v1h-1zM184 231h1v1h-1zM186 231h1v1h-1zM197 231h1v1h-1zM201 231h1v1h-1zM210 231h1v1h-1zM211 231h1v1h-1zM212 231h1v1h-1zM177 232h1v1h-1zM178 232h1v1h-1zM179 232h1v1h-1zM180 232h1v1h-1zM181 232h1v1h-1zM182 232h1v1h-1zM183 232h1v1h-1zM184 232h1v1h-1zM187 232h1v1h-1zM190 232h1v1h-1zM192 232h1v1h-1zM207 232h1v1h-1zM211 232h1v1h-1zM212 232h1v1h-1zM171 233h1v1h-1zM177 233h1v1h-1zM178 233h1v1h-1zM179 233h1v1h-1zM180 233h1v1h-1zM181 233h1v1h-1zM182 233h1v1h-1zM183 233h1v1h-1zM184 233h1v1h-1zM185 233h1v1h-1zM192 233h1v1h-1zM211 233h1v1h-1zM212 233h1v1h-1zM177 234h1v1h-1zM178 234h1v1h-1zM179 234h1v1h-1zM180 234h1v1h-1zM181 234h1v1h-1zM182 234h1v1h-1zM183 234h1v1h-1zM184 234h1v1h-1zM185 234h1v1h-1zM188 234h1v1h-1zM190 234h1v1h-1zM196 234h1v1h-1zM209 234h1v1h-1zM211 234h1v1h-1zM212 234h1v1h-1zM177 235h1v1h-1zM178 235h1v1h-1zM179 235h1v1h-1zM180 235h1v1h-1zM181 235h1v1h-1zM182 235h1v1h-1zM183 235h1v1h-1zM184 235h1v1h-1zM185 235h1v1h-1zM186 235h1v1h-1zM190 235h1v1h-1zM205 235h1v1h-1zM211 235h1v1h-1zM212 235h1v1h-1zM175 236h1v1h-1zM177 236h1v1h-1zM178 236h1v1h-1zM179 236h1v1h-1zM180 236h1v1h-1zM181 236h1v1h-1zM182 236h1v1h-1zM183 236h1v1h-1zM184 236h1v1h-1zM185 236h1v1h-1zM199 236h1v1h-1zM211 236h1v1h-1zM212 236h1v1h-1zM216 236h1v1h-1zM175 237h1v1h-1zM178 237h1v1h-1zM179 237h1v1h-1zM180 237h1v1h-1zM181 237h1v1h-1zM182 237h1v1h-1zM183 237h1v1h-1zM184 237h1v1h-1zM189 237h1v1h-1zM211 237h1v1h-1zM212 237h1v1h-1zM174 238h1v1h-1zM179 238h1v1h-1zM180 238h1v1h-1zM181 238h1v1h-1zM182 238h1v1h-1zM189 238h1v1h-1zM211 238h1v1h-1zM212 238h1v1h-1zM219 238h1v1h-1zM174 239h1v1h-1zM184 239h1v1h-1zM192 239h1v1h-1zM207 239h1v1h-1zM209 239h1v1h-1zM211 239h1v1h-1zM212 239h1v1h-1zM183 240h1v1h-1zM190 240h1v1h-1zM206 240h1v1h-1zM211 240h1v1h-1zM212 240h1v1h-1zM189 241h1v1h-1zM211 241h1v1h-1zM212 241h1v1h-1zM216 241h1v1h-1zM177 242h1v1h-1zM211 242h1v1h-1zM212 242h1v1h-1zM170 243h1v1h-1zM182 243h1v1h-1zM184 243h1v1h-1zM188 243h1v1h-1zM211 243h1v1h-1zM212 243h1v1h-1z"/></g>
<g filter="url(#bl)"><path fill="#2838e8" fill-opacity="0.55" d="M212 189h1v1h-1zM210 190h1v1h-1zM212 191h1v1h-1zM211 192h1v1h-1zM212 192h1v1h-1zM215 193h1v1h-1zM213 194h1v1h-1zM215 197h1v1h-1zM209 198h1v1h-1zM214 203h1v1h-1zM212 206h1v1h-1zM214 206h1v1h-1zM210 209h1v1h-1zM215 210h1v1h-1zM210 212h1v1h-1zM213 212h1v1h-1z"/>
<path fill="#2838e8" fill-opacity="0.70" d="M213 184h1v1h-1zM213 185h1v1h-1zM212 187h1v1h-1zM213 187h1v1h-1zM213 188h1v1h-1zM214 189h1v1h-1zM213 190h1v1h-1zM210 192h1v1h-1zM214 192h1v1h-1zM213 193h1v1h-1zM215 194h1v1h-1zM209 196h1v1h-1zM210 196h1v1h-1zM211 196h1v1h-1zM213 196h1v1h-1zM212 197h1v1h-1zM214 197h1v1h-1zM210 198h1v1h-1zM214 198h1v1h-1zM213 201h1v1h-1zM209 202h1v1h-1zM212 202h1v1h-1zM213 202h1v1h-1zM215 202h1v1h-1zM211 204h1v1h-1zM215 204h1v1h-1zM209 205h1v1h-1zM215 205h1v1h-1zM215 206h1v1h-1zM212 207h1v1h-1zM214 207h1v1h-1zM212 208h1v1h-1zM211 210h1v1h-1zM213 210h1v1h-1zM210 211h1v1h-1zM212 211h1v1h-1zM212 212h1v1h-1zM215 212h1v1h-1zM211 213h1v1h-1zM213 213h1v1h-1zM210 214h1v1h-1zM213 215h1v1h-1z"/>
<path fill="#2838e8" fill-opacity="0.85" d="M212 184h1v1h-1zM212 186h1v1h-1zM211 187h1v1h-1zM214 188h1v1h-1zM213 189h1v1h-1zM212 190h1v1h-1zM210 191h1v1h-1zM213 191h1v1h-1zM213 192h1v1h-1zM210 193h1v1h-1zM211 193h1v1h-1zM212 193h1v1h-1zM210 194h1v1h-1zM211 194h1v1h-1zM214 194h1v1h-1zM210 195h1v1h-1zM212 195h1v1h-1zM214 196h1v1h-1zM215 196h1v1h-1zM213 198h1v1h-1zM215 198h1v1h-1zM209 199h1v1h-1zM214 199h1v1h-1zM215 199h1v1h-1zM211 201h1v1h-1zM214 202h1v1h-1zM213 204h1v1h-1zM213 205h1v1h-1zM214 205h1v1h-1zM213 208h1v1h-1zM212 209h1v1h-1zM214 209h1v1h-1zM212 210h1v1h-1zM211 211h1v1h-1zM211 212h1v1h-1zM214 212h1v1h-1zM214 213h1v1h-1zM210 215h1v1h-1z"/>
<path fill="#2838e8" fill-opacity="1.00" d="M211 188h1v1h-1zM212 188h1v1h-1zM214 190h1v1h-1zM209 191h1v1h-1zM214 193h1v1h-1zM212 194h1v1h-1zM213 195h1v1h-1zM212 196h1v1h-1zM213 197h1v1h-1zM208 198h1v1h-1zM210 199h1v1h-1zM211 199h1v1h-1zM213 199h1v1h-1zM214 200h1v1h-1zM215 200h1v1h-1zM209 201h1v1h-1zM209 203h1v1h-1zM213 203h1v1h-1zM209 207h1v1h-1zM213 207h1v1h-1zM214 208h1v1h-1zM210 210h1v1h-1zM212 215h1v1h-1z"/></g>
<g filter="url(#bl)"><path fill="#e8102a" fill-opacity="0.55" d="M204 198h1v1h-1zM207 198h1v1h-1zM212 198h1v1h-1zM209 199h1v1h-1zM204 201h1v1h-1zM203 202h1v1h-1zM212 202h1v1h-1zM206 203h1v1h-1zM214 206h1v1h-1zM215 206h1v1h-1zM205 207h1v1h-1zM205 208h1v1h-1zM205 209h1v1h-1zM208 209h1v1h-1zM207 211h1v1h-1zM212 217h1v1h-1zM209 219h1v1h-1z"/>
<path fill="#e8102a" fill-opacity="0.70" d="M213 192h1v1h-1zM209 195h1v1h-1zM210 195h1v1h-1zM208 196h1v1h-1zM206 198h1v1h-1zM209 198h1v1h-1zM207 200h1v1h-1zM209 200h1v1h-1zM209 201h1v1h-1zM214 201h1v1h-1zM214 202h1v1h-1zM207 203h1v1h-1zM208 203h1v1h-1zM213 203h1v1h-1zM207 204h1v1h-1zM206 206h1v1h-1zM209 209h1v1h-1zM211 209h1v1h-1zM212 210h1v1h-1zM208 211h1v1h-1zM209 211h1v1h-1zM212 211h1v1h-1zM218 211h1v1h-1zM206 212h1v1h-1zM207 213h1v1h-1zM211 213h1v1h-1zM213 213h1v1h-1zM213 214h1v1h-1zM213 215h1v1h-1zM212 221h1v1h-1z"/>
<path fill="#e8102a" fill-opacity="0.85" d="M211 190h1v1h-1zM213 194h1v1h-1zM206 195h1v1h-1zM207 197h1v1h-1zM210 197h1v1h-1zM208 199h1v1h-1zM211 199h1v1h-1zM212 200h1v1h-1zM216 200h1v1h-1zM211 201h1v1h-1zM212 201h1v1h-1zM205 202h1v1h-1zM208 202h1v1h-1zM210 202h1v1h-1zM211 202h1v1h-1zM211 203h1v1h-1zM206 204h1v1h-1zM208 204h1v1h-1zM205 205h1v1h-1zM207 205h1v1h-1zM208 205h1v1h-1zM212 205h1v1h-1zM213 205h1v1h-1zM208 206h1v1h-1zM213 206h1v1h-1zM208 207h1v1h-1zM211 207h1v1h-1zM206 208h1v1h-1zM209 208h1v1h-1zM210 208h1v1h-1zM212 208h1v1h-1zM206 209h1v1h-1zM213 209h1v1h-1zM206 210h1v1h-1zM209 210h1v1h-1zM206 211h1v1h-1zM208 212h1v1h-1zM211 212h1v1h-1zM210 213h1v1h-1zM212 213h1v1h-1zM211 215h1v1h-1z"/>
<path fill="#e8102a" fill-opacity="1.00" d="M209 191h1v1h-1zM216 194h1v1h-1zM211 196h1v1h-1zM211 198h1v1h-1zM211 200h1v1h-1zM208 201h1v1h-1zM209 202h1v1h-1zM209 203h1v1h-1zM210 203h1v1h-1zM212 203h1v1h-1zM209 204h1v1h-1zM210 204h1v1h-1zM211 204h1v1h-1zM209 205h1v1h-1zM210 205h1v1h-1zM211 205h1v1h-1zM209 206h1v1h-1zM210 206h1v1h-1zM211 206h1v1h-1zM212 206h1v1h-1zM209 207h1v1h-1zM210 207h1v1h-1zM211 208h1v1h-1zM208 210h1v1h-1zM211 210h1v1h-1zM213 211h1v1h-1zM207 212h1v1h-1zM209 212h1v1h-1zM210 212h1v1h-1zM212 212h1v1h-1zM213 212h1v1h-1zM207 215h1v1h-1z"/></g>
<rect x="167.5" y="142.5" width="83.5" height="102" fill="none" stroke="#222" stroke-width="0.8"/>
<line x1="166.0" y1="244.5" x2="168.0" y2="244.5" stroke="#333" stroke-width="0.7"/><line x1="166.7" y1="237.0" x2="167.8" y2="237.0" stroke="#333" stroke-width="0.5"/><line x1="166.7" y1="232.6" x2="167.8" y2="232.6" stroke="#333" stroke-width="0.5"/><line x1="166.7" y1="229.4" x2="167.8" y2="229.4" stroke="#333" stroke-width="0.5"/><line x1="166.7" y1="227.0" x2="167.8" y2="227.0" stroke="#333" stroke-width="0.5"/><line x1="166.7" y1="225.0" x2="167.8" y2="225.0" stroke="#333" stroke-width="0.5"/><line x1="166.7" y1="223.4" x2="167.8" y2="223.4" stroke="#333" stroke-width="0.5"/><line x1="166.7" y1="221.9" x2="167.8" y2="221.9" stroke="#333" stroke-width="0.5"/><line x1="166.7" y1="220.6" x2="167.8" y2="220.6" stroke="#333" stroke-width="0.5"/><line x1="166.0" y1="219.5" x2="168.0" y2="219.5" stroke="#333" stroke-width="0.7"/><line x1="166.7" y1="212.0" x2="167.8" y2="212.0" stroke="#333" stroke-width="0.5"/><line x1="166.7" y1="207.6" x2="167.8" y2="207.6" stroke="#333" stroke-width="0.5"/><line x1="166.7" y1="204.4" x2="167.8" y2="204.4" stroke="#333" stroke-width="0.5"/><line x1="166.7" y1="202.0" x2="167.8" y2="202.0" stroke="#333" stroke-width="0.5"/><line x1="166.7" y1="200.0" x2="167.8" y2="200.0" stroke="#333" stroke-width="0.5"/><line x1="166.7" y1="198.4" x2="167.8" y2="198.4" stroke="#333" stroke-width="0.5"/><line x1="166.7" y1="196.9" x2="167.8" y2="196.9" stroke="#333" stroke-width="0.5"/><line x1="166.7" y1="195.6" x2="167.8" y2="195.6" stroke="#333" stroke-width="0.5"/><line x1="166.0" y1="194.5" x2="168.0" y2="194.5" stroke="#333" stroke-width="0.7"/><line x1="166.7" y1="187.0" x2="167.8" y2="187.0" stroke="#333" stroke-width="0.5"/><line x1="166.7" y1="182.6" x2="167.8" y2="182.6" stroke="#333" stroke-width="0.5"/><line x1="166.7" y1="179.4" x2="167.8" y2="179.4" stroke="#333" stroke-width="0.5"/><line x1="166.7" y1="177.0" x2="167.8" y2="177.0" stroke="#333" stroke-width="0.5"/><line x1="166.7" y1="175.0" x2="167.8" y2="175.0" stroke="#333" stroke-width="0.5"/><line x1="166.7" y1="173.4" x2="167.8" y2="173.4" stroke="#333" stroke-width="0.5"/><line x1="166.7" y1="171.9" x2="167.8" y2="171.9" stroke="#333" stroke-width="0.5"/><line x1="166.7" y1="170.6" x2="167.8" y2="170.6" stroke="#333" stroke-width="0.5"/><line x1="166.0" y1="169.5" x2="168.0" y2="169.5" stroke="#333" stroke-width="0.7"/><line x1="166.7" y1="162.0" x2="167.8" y2="162.0" stroke="#333" stroke-width="0.5"/><line x1="166.7" y1="157.6" x2="167.8" y2="157.6" stroke="#333" stroke-width="0.5"/><line x1="166.7" y1="154.4" x2="167.8" y2="154.4" stroke="#333" stroke-width="0.5"/><line x1="166.7" y1="152.0" x2="167.8" y2="152.0" stroke="#333" stroke-width="0.5"/><line x1="166.7" y1="150.0" x2="167.8" y2="150.0" stroke="#333" stroke-width="0.5"/><line x1="166.7" y1="148.4" x2="167.8" y2="148.4" stroke="#333" stroke-width="0.5"/><line x1="166.7" y1="146.9" x2="167.8" y2="146.9" stroke="#333" stroke-width="0.5"/><line x1="166.7" y1="145.6" x2="167.8" y2="145.6" stroke="#333" stroke-width="0.5"/><line x1="166.0" y1="144.5" x2="168.0" y2="144.5" stroke="#333" stroke-width="0.7"/>
<line x1="168.9" y1="244.2" x2="168.9" y2="245.3" stroke="#333" stroke-width="0.5"/><line x1="171.0" y1="244.2" x2="171.0" y2="245.3" stroke="#333" stroke-width="0.5"/><line x1="172.8" y1="244.2" x2="172.8" y2="245.3" stroke="#333" stroke-width="0.5"/><line x1="174.3" y1="244.2" x2="174.3" y2="245.3" stroke="#333" stroke-width="0.5"/><line x1="175.6" y1="244.2" x2="175.6" y2="245.3" stroke="#333" stroke-width="0.5"/><line x1="176.7" y1="244.2" x2="176.7" y2="245.3" stroke="#333" stroke-width="0.5"/><line x1="177.7" y1="244.0" x2="177.7" y2="246.0" stroke="#333" stroke-width="0.7"/><line x1="184.4" y1="244.2" x2="184.4" y2="245.3" stroke="#333" stroke-width="0.5"/><line x1="188.3" y1="244.2" x2="188.3" y2="245.3" stroke="#333" stroke-width="0.5"/><line x1="191.1" y1="244.2" x2="191.1" y2="245.3" stroke="#333" stroke-width="0.5"/><line x1="193.2" y1="244.2" x2="193.2" y2="245.3" stroke="#333" stroke-width="0.5"/><line x1="195.0" y1="244.2" x2="195.0" y2="245.3" stroke="#333" stroke-width="0.5"/><line x1="196.5" y1="244.2" x2="196.5" y2="245.3" stroke="#333" stroke-width="0.5"/><line x1="197.8" y1="244.2" x2="197.8" y2="245.3" stroke="#333" stroke-width="0.5"/><line x1="198.9" y1="244.2" x2="198.9" y2="245.3" stroke="#333" stroke-width="0.5"/><line x1="199.9" y1="244.0" x2="199.9" y2="246.0" stroke="#333" stroke-width="0.7"/><line x1="206.6" y1="244.2" x2="206.6" y2="245.3" stroke="#333" stroke-width="0.5"/><line x1="210.5" y1="244.2" x2="210.5" y2="245.3" stroke="#333" stroke-width="0.5"/><line x1="213.3" y1="244.2" x2="213.3" y2="245.3" stroke="#333" stroke-width="0.5"/><line x1="215.4" y1="244.2" x2="215.4" y2="245.3" stroke="#333" stroke-width="0.5"/><line x1="217.2" y1="244.2" x2="217.2" y2="245.3" stroke="#333" stroke-width="0.5"/><line x1="218.7" y1="244.2" x2="218.7" y2="245.3" stroke="#333" stroke-width="0.5"/><line x1="220.0" y1="244.2" x2="220.0" y2="245.3" stroke="#333" stroke-width="0.5"/><line x1="221.1" y1="244.2" x2="221.1" y2="245.3" stroke="#333" stroke-width="0.5"/><line x1="222.1" y1="244.0" x2="222.1" y2="246.0" stroke="#333" stroke-width="0.7"/><line x1="228.8" y1="244.2" x2="228.8" y2="245.3" stroke="#333" stroke-width="0.5"/><line x1="232.7" y1="244.2" x2="232.7" y2="245.3" stroke="#333" stroke-width="0.5"/><line x1="235.5" y1="244.2" x2="235.5" y2="245.3" stroke="#333" stroke-width="0.5"/><line x1="237.7" y1="244.2" x2="237.7" y2="245.3" stroke="#333" stroke-width="0.5"/><line x1="239.4" y1="244.2" x2="239.4" y2="245.3" stroke="#333" stroke-width="0.5"/><line x1="240.9" y1="244.2" x2="240.9" y2="245.3" stroke="#333" stroke-width="0.5"/><line x1="242.2" y1="244.2" x2="242.2" y2="245.3" stroke="#333" stroke-width="0.5"/><line x1="243.3" y1="244.2" x2="243.3" y2="245.3" stroke="#333" stroke-width="0.5"/><line x1="244.3" y1="244.0" x2="244.3" y2="246.0" stroke="#333" stroke-width="0.7"/>
<text transform="translate(158.6,226) rotate(-90)" font-size="5.2" text-anchor="middle" fill="#111" stroke="#111" stroke-width="0.12">10<tspan dy="-1.9" font-size="3.8">2</tspan></text>
<text transform="translate(158.6,201) rotate(-90)" font-size="5.2" text-anchor="middle" fill="#111" stroke="#111" stroke-width="0.12">10<tspan dy="-1.9" font-size="3.8">3</tspan></text>
<text transform="translate(158.6,177) rotate(-90)" font-size="5.2" text-anchor="middle" fill="#111" stroke="#111" stroke-width="0.12">10<tspan dy="-1.9" font-size="3.8">4</tspan></text>
<text transform="translate(158.6,152) rotate(-90)" font-size="5.2" text-anchor="middle" fill="#111" stroke="#111" stroke-width="0.12">10<tspan dy="-1.9" font-size="3.8">5</tspan></text>
<text x="177.5" y="256.4" font-size="5.2" text-anchor="middle" fill="#111" stroke="#111" stroke-width="0.12">10<tspan dy="-1.9" font-size="3.8">2</tspan></text>
<text x="200" y="256.4" font-size="5.2" text-anchor="middle" fill="#111" stroke="#111" stroke-width="0.12">10<tspan dy="-1.9" font-size="3.8">3</tspan></text>
<text x="221.7" y="256.4" font-size="5.2" text-anchor="middle" fill="#111" stroke="#111" stroke-width="0.12">10<tspan dy="-1.9" font-size="3.8">4</tspan></text>
<text x="244" y="256.4" font-size="5.2" text-anchor="middle" fill="#111" stroke="#111" stroke-width="0.12">10<tspan dy="-1.9" font-size="3.8">5</tspan></text>
<text transform="translate(148.6,182.2) rotate(-90)" font-size="6.1" font-weight="bold" text-anchor="middle" fill="#111" stroke="#111" stroke-width="0.3">CD25</text>
<line x1="146.4" y1="147.8" x2="146.4" y2="167.5" stroke="#111" stroke-width="1.3"/><path d="M146.4 142.8 L143.6 148.8 L149.20000000000002 148.8Z" fill="#111"/>
<text x="207.3" y="266.8" font-size="7.0" font-weight="bold" text-anchor="start" fill="#111" stroke="#111" stroke-width="0.3" >CD4</text>
<line x1="229" y1="264.5" x2="243.7" y2="264.5" stroke="#111" stroke-width="1.3"/><path d="M248.7 264.5 L242.7 261.5 L242.7 267.5Z" fill="#111"/>
<text x="260.3" y="140.2" font-size="11.2" font-weight="bold" text-anchor="start" fill="#111" stroke="#111" stroke-width="0.3" >D</text>
<rect x="283.3" y="146.5" width="8" height="4.7" fill="#2a3cf0" stroke="#101030" stroke-width="0.9"/>
<rect x="283.3" y="156.8" width="8" height="5.1" fill="#f01838" stroke="#300808" stroke-width="0.9"/>
<text x="292.8" y="151.9" font-size="6.9" font-weight="bold" text-anchor="start" fill="#111" stroke="#111" stroke-width="0.3" >CD4<tspan font-size="4.2" dy="-3.1">+</tspan><tspan dy="3.1">CD25</tspan><tspan font-size="4.2" dy="-3.1">+</tspan><tspan dy="3.1">FOXP3</tspan><tspan font-size="4.2" dy="-3.1">+</tspan><tspan dy="3.1">CD45RO</tspan><tspan font-size="3.9" dy="-2.4">hi</tspan></text>
<text x="292.8" y="162.3" font-size="6.9" font-weight="bold" text-anchor="start" fill="#111" stroke="#111" stroke-width="0.3" >CD4<tspan font-size="4.2" dy="-3.1">+</tspan><tspan dy="3.1">CD25</tspan><tspan font-size="4.2" dy="-3.1">+</tspan><tspan dy="3.1">FOXP3</tspan><tspan font-size="4.2" dy="-3.1">+</tspan><tspan dy="3.1">CD45RO</tspan><tspan font-size="3.9" dy="-2.4">lo</tspan></text>
<path d="M290.70 233.4 L290.70 233.40 L291.00 233.26 L291.30 233.11 L291.60 232.95 L291.90 232.50 L292.20 231.89 L292.50 231.36 L292.80 230.91 L293.10 230.53 L293.40 229.97 L293.70 229.39 L294.00 228.71 L294.30 227.74 L294.60 226.68 L294.90 226.21 L295.20 226.15 L295.50 226.17 L295.80 225.58 L296.10 224.98 L296.40 224.14 L296.70 222.71 L297.00 220.97 L297.30 219.95 L297.60 219.38 L297.90 218.87 L298.20 218.30 L298.50 217.77 L298.80 217.09 L299.10 216.00 L299.40 214.90 L299.70 213.76 L300.00 212.63 L300.30 211.55 L300.60 211.51 L300.90 211.52 L301.20 211.41 L301.50 210.98 L301.80 210.57 L302.10 207.83 L302.40 205.01 L302.70 202.10 L303.00 202.52 L303.30 203.06 L303.60 203.47 L303.90 203.24 L304.20 203.02 L304.50 202.11 L304.80 200.84 L305.10 199.55 L305.40 198.71 L305.70 197.90 L306.00 196.97 L306.30 195.41 L306.60 193.83 L306.90 195.24 L307.20 198.19 L307.50 201.18 L307.80 199.86 L308.10 198.53 L308.40 197.74 L308.70 198.04 L309.00 198.35 L309.30 198.42 L309.60 198.28 L309.90 198.14 L310.20 198.55 L310.50 198.97 L310.80 199.84 L311.10 201.19 L311.40 202.52 L311.70 201.68 L312.00 199.78 L312.30 198.13 L312.60 198.71 L312.90 199.31 L313.20 200.27 L313.50 201.93 L313.80 203.53 L314.10 203.85 L314.40 203.59 L314.70 203.36 L315.00 204.63 L315.30 205.94 L315.60 207.08 L315.90 207.89 L316.20 208.69 L316.50 208.03 L316.80 208.44 L317.10 207.59 L317.40 209.48 L317.70 211.30 L318.00 212.93 L318.30 214.28 L318.60 215.58 L318.90 215.95 L319.20 215.93 L319.50 215.95 L319.80 217.41 L320.10 218.81 L320.40 219.63 L320.70 219.48 L321.00 219.42 L321.30 220.63 L321.60 222.27 L321.90 223.80 L322.20 224.73 L322.50 225.61 L322.80 226.38 L323.10 226.98 L323.40 227.61 L323.70 228.15 L324.00 228.65 L324.30 229.16 L324.60 229.70 L324.90 230.25 L325.20 230.79 L325.50 231.31 L325.80 231.88 L326.10 232.53 L326.40 233.19 L326.70 233.40 L327.00 233.40 L327.30 233.40 L327.60 233.40 L327.90 233.40 L328.20 233.40 L328.50 233.40 L328.80 233.40 L329.10 233.40 L329.40 233.40 L329.70 233.40 L330.00 233.40 L330.30 233.40 L330.60 233.40 L330.90 233.40 L331.20 233.40 L331.50 233.40 L331.80 233.40 L332.10 233.40 L332.40 233.40 L332.70 233.40 L333.00 233.40 L333.30 233.40 L333.60 233.40 L333.90 233.40 L334.20 233.40 L334.50 233.40 L334.80 233.40 L335.10 233.40 L335.40 233.40 L335.70 233.40 L336.00 233.40 L336.30 233.40 L336.60 233.40 L336.90 233.40 L337.20 233.40 L337.50 233.40 L337.80 233.40 L338.10 233.40 L338.40 233.40 L338.70 233.40 L339.00 233.40 L339.30 233.40 L339.30 233.4Z" fill="#f04c98" stroke="#401030" stroke-width="0.6"/>
<path d="M290.70 233.4 L290.70 233.40 L291.00 233.40 L291.30 233.40 L291.60 233.40 L291.90 233.40 L292.20 233.40 L292.50 233.40 L292.80 233.40 L293.10 233.40 L293.40 233.40 L293.70 233.40 L294.00 233.40 L294.30 233.40 L294.60 233.40 L294.90 233.40 L295.20 233.40 L295.50 233.40 L295.80 233.40 L296.10 233.40 L296.40 233.40 L296.70 233.40 L297.00 233.40 L297.30 233.40 L297.60 233.40 L297.90 233.40 L298.20 233.40 L298.50 233.40 L298.80 233.40 L299.10 233.40 L299.40 233.40 L299.70 233.40 L300.00 233.40 L300.30 233.40 L300.60 233.40 L300.90 233.40 L301.20 233.40 L301.50 233.40 L301.80 233.40 L302.10 233.40 L302.40 233.40 L302.70 233.40 L303.00 233.40 L303.30 233.40 L303.60 233.40 L303.90 233.40 L304.20 233.40 L304.50 233.40 L304.80 233.40 L305.10 233.40 L305.40 233.40 L305.70 233.40 L306.00 233.40 L306.30 233.40 L306.60 233.40 L306.90 233.40 L307.20 233.40 L307.50 233.40 L307.80 233.40 L308.10 233.40 L308.40 233.40 L308.70 233.40 L309.00 233.40 L309.30 233.10 L309.60 232.79 L309.90 232.47 L310.20 232.19 L310.50 231.92 L310.80 231.65 L311.10 231.27 L311.40 230.70 L311.70 230.10 L312.00 229.48 L312.30 228.85 L312.60 228.24 L312.90 227.62 L313.20 226.92 L313.50 226.23 L313.80 225.55 L314.10 224.77 L314.40 223.91 L314.70 223.04 L315.00 222.28 L315.30 221.38 L315.60 220.53 L315.90 219.81 L316.20 219.11 L316.50 218.15 L316.80 217.03 L317.10 215.85 L317.40 215.02 L317.70 214.21 L318.00 213.26 L318.30 211.97 L318.60 210.38 L318.90 208.70 L319.20 207.31 L319.50 205.99 L319.80 202.96 L320.10 199.83 L320.40 197.01 L320.70 194.99 L321.00 192.55 L321.30 189.62 L321.60 186.27 L321.90 182.63 L322.20 179.00 L322.50 176.03 L322.80 173.60 L323.10 171.59 L323.40 169.49 L323.70 167.54 L324.00 169.09 L324.30 172.29 L324.60 173.23 L324.90 172.64 L325.20 173.26 L325.50 176.19 L325.80 175.99 L326.10 174.24 L326.40 171.63 L326.70 168.98 L327.00 168.00 L327.30 170.44 L327.60 173.50 L327.90 177.60 L328.20 181.59 L328.50 184.52 L328.80 186.80 L329.10 189.11 L329.40 190.65 L329.70 192.34 L330.00 194.48 L330.30 197.22 L330.60 199.85 L330.90 202.58 L331.20 205.33 L331.50 208.06 L331.80 209.65 L332.10 211.28 L332.40 213.05 L332.70 215.01 L333.00 216.96 L333.30 218.48 L333.60 220.01 L333.90 221.50 L334.20 222.62 L334.50 223.71 L334.80 224.76 L335.10 225.95 L335.40 227.11 L335.70 228.03 L336.00 228.86 L336.30 229.71 L336.60 230.57 L336.90 231.21 L337.20 231.82 L337.50 232.42 L337.80 233.01 L338.10 233.40 L338.40 233.40 L338.70 233.40 L339.00 233.40 L339.30 233.40 L339.30 233.4Z" fill="#7878f0" stroke="#101050" stroke-width="0.6"/>
<path d="M290.70 233.4 L290.70 233.40 L291.00 233.40 L291.30 233.40 L291.60 233.40 L291.90 233.40 L292.20 233.40 L292.50 233.40 L292.80 233.40 L293.10 233.40 L293.40 233.40 L293.70 233.40 L294.00 233.40 L294.30 233.40 L294.60 233.40 L294.90 233.40 L295.20 233.40 L295.50 233.40 L295.80 233.40 L296.10 233.40 L296.40 233.40 L296.70 233.40 L297.00 233.40 L297.30 233.40 L297.60 233.40 L297.90 233.40 L298.20 233.40 L298.50 233.40 L298.80 233.40 L299.10 233.40 L299.40 233.40 L299.70 233.40 L300.00 233.40 L300.30 233.40 L300.60 233.40 L300.90 233.40 L301.20 233.40 L301.50 233.40 L301.80 233.40 L302.10 233.40 L302.40 233.40 L302.70 233.40 L303.00 233.40 L303.30 233.40 L303.60 233.40 L303.90 233.40 L304.20 233.40 L304.50 233.40 L304.80 233.40 L305.10 233.40 L305.40 233.40 L305.70 233.40 L306.00 233.40 L306.30 233.40 L306.60 233.40 L306.90 233.40 L307.20 233.40 L307.50 233.40 L307.80 233.40 L308.10 233.40 L308.40 233.40 L308.70 233.40 L309.00 233.40 L309.30 233.10 L309.60 232.79 L309.90 232.47 L310.20 232.19 L310.50 231.92 L310.80 231.65 L311.10 231.27 L311.40 230.70 L311.70 230.10 L312.00 229.48 L312.30 228.85 L312.60 228.24 L312.90 227.62 L313.20 226.92 L313.50 226.23 L313.80 225.55 L314.10 224.77 L314.40 223.91 L314.70 223.04 L315.00 222.28 L315.30 221.38 L315.60 220.53 L315.90 219.81 L316.20 219.11 L316.50 218.15 L316.80 217.03 L317.10 215.85 L317.40 215.02 L317.70 214.21 L318.00 213.26 L318.30 214.28 L318.60 215.58 L318.90 215.95 L319.20 215.93 L319.50 215.95 L319.80 217.41 L320.10 218.81 L320.40 219.63 L320.70 219.48 L321.00 219.42 L321.30 220.63 L321.60 222.27 L321.90 223.80 L322.20 224.73 L322.50 225.61 L322.80 226.38 L323.10 226.98 L323.40 227.61 L323.70 228.15 L324.00 228.65 L324.30 229.16 L324.60 229.70 L324.90 230.25 L325.20 230.79 L325.50 231.31 L325.80 231.88 L326.10 232.53 L326.40 233.19 L326.70 233.40 L327.00 233.40 L327.30 233.40 L327.60 233.40 L327.90 233.40 L328.20 233.40 L328.50 233.40 L328.80 233.40 L329.10 233.40 L329.40 233.40 L329.70 233.40 L330.00 233.40 L330.30 233.40 L330.60 233.40 L330.90 233.40 L331.20 233.40 L331.50 233.40 L331.80 233.40 L332.10 233.40 L332.40 233.40 L332.70 233.40 L333.00 233.40 L333.30 233.40 L333.60 233.40 L333.90 233.40 L334.20 233.40 L334.50 233.40 L334.80 233.40 L335.10 233.40 L335.40 233.40 L335.70 233.40 L336.00 233.40 L336.30 233.40 L336.60 233.40 L336.90 233.40 L337.20 233.40 L337.50 233.40 L337.80 233.40 L338.10 233.40 L338.40 233.40 L338.70 233.40 L339.00 233.40 L339.30 233.40 L339.30 233.4Z" fill="#c022a0" stroke="none"/>
<line x1="301.5" y1="211.5" x2="301.5" y2="219.0" stroke="#3a0a2a" stroke-width="0.6" stroke-opacity="0.8"/>
<line x1="303.8" y1="203.8" x2="303.8" y2="210.6" stroke="#3a0a2a" stroke-width="0.6" stroke-opacity="0.8"/>
<line x1="307.6" y1="201.2" x2="307.6" y2="208.8" stroke="#3a0a2a" stroke-width="0.6" stroke-opacity="0.8"/>
<line x1="310.2" y1="199.0" x2="310.2" y2="206.2" stroke="#3a0a2a" stroke-width="0.6" stroke-opacity="0.8"/>
<line x1="312.6" y1="199.2" x2="312.6" y2="205.8" stroke="#3a0a2a" stroke-width="0.6" stroke-opacity="0.8"/>
<line x1="314.8" y1="204.3" x2="314.8" y2="213.1" stroke="#3a0a2a" stroke-width="0.6" stroke-opacity="0.8"/>
<rect x="290.5" y="166.5" width="84.8" height="67" fill="none" stroke="#555" stroke-width="0.6"/>
<line x1="290.6" y1="166.5" x2="290.6" y2="233.4" stroke="#111" stroke-width="0.9" stroke-dasharray="3 1.5"/>
<line x1="305.8" y1="166.5" x2="305.8" y2="233.4" stroke="#111" stroke-width="0.9" stroke-dasharray="3 1.5"/>
<line x1="290.5" y1="233.4" x2="375.3" y2="233.4" stroke="#333" stroke-width="0.8"/>
<text x="285.6" y="179.6" font-size="3.3" text-anchor="end" fill="#555">600</text>
<line x1="289" y1="178.5" x2="290.5" y2="178.5" stroke="#333" stroke-width="0.5"/>
<text x="285.6" y="197.9" font-size="3.3" text-anchor="end" fill="#555">400</text>
<line x1="289" y1="196.8" x2="290.5" y2="196.8" stroke="#333" stroke-width="0.5"/>
<text x="285.6" y="215.9" font-size="3.3" text-anchor="end" fill="#555">200</text>
<line x1="289" y1="214.8" x2="290.5" y2="214.8" stroke="#333" stroke-width="0.5"/>
<text x="285.6" y="234.5" font-size="3.3" text-anchor="end" fill="#555">0</text>
<line x1="289" y1="233.4" x2="290.5" y2="233.4" stroke="#333" stroke-width="0.5"/>
<text x="291" y="240.5" font-size="3.2" text-anchor="middle" fill="#555">10<tspan dy="-1" font-size="2.3">0</tspan></text>
<text x="312.3" y="240.5" font-size="3.2" text-anchor="middle" fill="#555">10<tspan dy="-1" font-size="2.3">1</tspan></text>
<text x="333.5" y="240.5" font-size="3.2" text-anchor="middle" fill="#555">10<tspan dy="-1" font-size="2.3">2</tspan></text>
<text x="354.7" y="240.5" font-size="3.2" text-anchor="middle" fill="#555">10<tspan dy="-1" font-size="2.3">3</tspan></text>
<line x1="291.0" y1="232.9" x2="291.0" y2="234.9" stroke="#333" stroke-width="0.7"/><line x1="297.3" y1="233.1" x2="297.3" y2="234.20000000000002" stroke="#333" stroke-width="0.5"/><line x1="301.1" y1="233.1" x2="301.1" y2="234.20000000000002" stroke="#333" stroke-width="0.5"/><line x1="303.7" y1="233.1" x2="303.7" y2="234.20000000000002" stroke="#333" stroke-width="0.5"/><line x1="305.7" y1="233.1" x2="305.7" y2="234.20000000000002" stroke="#333" stroke-width="0.5"/><line x1="307.4" y1="233.1" x2="307.4" y2="234.20000000000002" stroke="#333" stroke-width="0.5"/><line x1="308.8" y1="233.1" x2="308.8" y2="234.20000000000002" stroke="#333" stroke-width="0.5"/><line x1="310.0" y1="233.1" x2="310.0" y2="234.20000000000002" stroke="#333" stroke-width="0.5"/><line x1="311.1" y1="233.1" x2="311.1" y2="234.20000000000002" stroke="#333" stroke-width="0.5"/><line x1="312.1" y1="232.9" x2="312.1" y2="234.9" stroke="#333" stroke-width="0.7"/><line x1="318.4" y1="233.1" x2="318.4" y2="234.20000000000002" stroke="#333" stroke-width="0.5"/><line x1="322.1" y1="233.1" x2="322.1" y2="234.20000000000002" stroke="#333" stroke-width="0.5"/><line x1="324.8" y1="233.1" x2="324.8" y2="234.20000000000002" stroke="#333" stroke-width="0.5"/><line x1="326.8" y1="233.1" x2="326.8" y2="234.20000000000002" stroke="#333" stroke-width="0.5"/><line x1="328.5" y1="233.1" x2="328.5" y2="234.20000000000002" stroke="#333" stroke-width="0.5"/><line x1="329.9" y1="233.1" x2="329.9" y2="234.20000000000002" stroke="#333" stroke-width="0.5"/><line x1="331.1" y1="233.1" x2="331.1" y2="234.20000000000002" stroke="#333" stroke-width="0.5"/><line x1="332.2" y1="233.1" x2="332.2" y2="234.20000000000002" stroke="#333" stroke-width="0.5"/><line x1="333.1" y1="232.9" x2="333.1" y2="234.9" stroke="#333" stroke-width="0.7"/><line x1="339.5" y1="233.1" x2="339.5" y2="234.20000000000002" stroke="#333" stroke-width="0.5"/><line x1="343.2" y1="233.1" x2="343.2" y2="234.20000000000002" stroke="#333" stroke-width="0.5"/><line x1="345.8" y1="233.1" x2="345.8" y2="234.20000000000002" stroke="#333" stroke-width="0.5"/><line x1="347.9" y1="233.1" x2="347.9" y2="234.20000000000002" stroke="#333" stroke-width="0.5"/><line x1="349.5" y1="233.1" x2="349.5" y2="234.20000000000002" stroke="#333" stroke-width="0.5"/><line x1="351.0" y1="233.1" x2="351.0" y2="234.20000000000002" stroke="#333" stroke-width="0.5"/><line x1="352.2" y1="233.1" x2="352.2" y2="234.20000000000002" stroke="#333" stroke-width="0.5"/><line x1="353.3" y1="233.1" x2="353.3" y2="234.20000000000002" stroke="#333" stroke-width="0.5"/><line x1="354.2" y1="232.9" x2="354.2" y2="234.9" stroke="#333" stroke-width="0.7"/><line x1="360.6" y1="233.1" x2="360.6" y2="234.20000000000002" stroke="#333" stroke-width="0.5"/><line x1="364.3" y1="233.1" x2="364.3" y2="234.20000000000002" stroke="#333" stroke-width="0.5"/><line x1="366.9" y1="233.1" x2="366.9" y2="234.20000000000002" stroke="#333" stroke-width="0.5"/><line x1="369.0" y1="233.1" x2="369.0" y2="234.20000000000002" stroke="#333" stroke-width="0.5"/><line x1="370.6" y1="233.1" x2="370.6" y2="234.20000000000002" stroke="#333" stroke-width="0.5"/><line x1="372.0" y1="233.1" x2="372.0" y2="234.20000000000002" stroke="#333" stroke-width="0.5"/><line x1="373.3" y1="233.1" x2="373.3" y2="234.20000000000002" stroke="#333" stroke-width="0.5"/><line x1="374.3" y1="233.1" x2="374.3" y2="234.20000000000002" stroke="#333" stroke-width="0.5"/><line x1="375.3" y1="232.9" x2="375.3" y2="234.9" stroke="#333" stroke-width="0.7"/>
<text x="333.5" y="251.5" font-size="6" font-weight="bold" text-anchor="start" fill="#111" stroke="#111" stroke-width="0.3" ></text>
<text x="331.8" y="253.4" font-size="6.9" font-weight="bold" text-anchor="start" fill="#111" stroke="#111" stroke-width="0.3" >CD95</text>
<line x1="364" y1="251.5" x2="372.5" y2="251.5" stroke="#111" stroke-width="1.3"/><path d="M377.5 251.5 L371.5 248.5 L371.5 254.5Z" fill="#111"/>
<text x="332.8" y="172.4" font-size="5.2" font-weight="bold" text-anchor="start" fill="#111" stroke="#111" stroke-width="0.3" >R3</text>
<text x="311.8" y="194.8" font-size="5.2" font-weight="bold" text-anchor="start" fill="#111" stroke="#111" stroke-width="0.3" >R2</text>
<text x="406" y="140.2" font-size="11.2" font-weight="bold" text-anchor="start" fill="#111" stroke="#111" stroke-width="0.3" >E</text>
<line x1="424.3" y1="222.3" x2="513" y2="222.3" stroke="#c8c8c8" stroke-width="0.7"/>
<line x1="424.3" y1="210.3" x2="513" y2="210.3" stroke="#c8c8c8" stroke-width="0.7"/>
<line x1="424.3" y1="198.2" x2="513" y2="198.2" stroke="#c8c8c8" stroke-width="0.7"/>
<line x1="424.3" y1="186.2" x2="513" y2="186.2" stroke="#c8c8c8" stroke-width="0.7"/>
<line x1="424.3" y1="174.2" x2="513" y2="174.2" stroke="#c8c8c8" stroke-width="0.7"/>
<line x1="424.3" y1="162.1" x2="513" y2="162.1" stroke="#c8c8c8" stroke-width="0.7"/>
<line x1="422.8" y1="234.4" x2="424.3" y2="234.4" stroke="#222" stroke-width="0.8"/>
<text x="421.7" y="236.7" font-size="6.4" font-weight="bold" text-anchor="end" fill="#222" stroke="#222" stroke-width="0.2">0</text>
<line x1="422.8" y1="222.3" x2="424.3" y2="222.3" stroke="#222" stroke-width="0.8"/>
<text x="421.7" y="224.7" font-size="6.4" font-weight="bold" text-anchor="end" fill="#222" stroke="#222" stroke-width="0.2">10</text>
<line x1="422.8" y1="210.3" x2="424.3" y2="210.3" stroke="#222" stroke-width="0.8"/>
<text x="421.7" y="212.6" font-size="6.4" font-weight="bold" text-anchor="end" fill="#222" stroke="#222" stroke-width="0.2">20</text>
<line x1="422.8" y1="198.2" x2="424.3" y2="198.2" stroke="#222" stroke-width="0.8"/>
<text x="421.7" y="200.6" font-size="6.4" font-weight="bold" text-anchor="end" fill="#222" stroke="#222" stroke-width="0.2">30</text>
<line x1="422.8" y1="186.2" x2="424.3" y2="186.2" stroke="#222" stroke-width="0.8"/>
<text x="421.7" y="188.5" font-size="6.4" font-weight="bold" text-anchor="end" fill="#222" stroke="#222" stroke-width="0.2">40</text>
<line x1="422.8" y1="174.2" x2="424.3" y2="174.2" stroke="#222" stroke-width="0.8"/>
<text x="421.7" y="176.5" font-size="6.4" font-weight="bold" text-anchor="end" fill="#222" stroke="#222" stroke-width="0.2">50</text>
<line x1="422.8" y1="162.1" x2="424.3" y2="162.1" stroke="#222" stroke-width="0.8"/>
<text x="421.7" y="164.4" font-size="6.4" font-weight="bold" text-anchor="end" fill="#222" stroke="#222" stroke-width="0.2">60</text>
<line x1="424.3" y1="161.6" x2="424.3" y2="234.4" stroke="#444" stroke-width="1.1"/>
<line x1="424.3" y1="234.4" x2="515" y2="234.4" stroke="#333" stroke-width="1.1"/>
<line x1="424.4" y1="234.4" x2="424.4" y2="235.9" stroke="#222" stroke-width="0.8"/>
<text x="424.4" y="246.2" font-size="6.4" font-weight="bold" text-anchor="middle" fill="#222" stroke="#222" stroke-width="0.2">0</text>
<line x1="454.3" y1="234.4" x2="454.3" y2="235.9" stroke="#222" stroke-width="0.8"/>
<text x="454.3" y="246.2" font-size="6.4" font-weight="bold" text-anchor="middle" fill="#222" stroke="#222" stroke-width="0.2">20</text>
<line x1="483.4" y1="234.4" x2="483.4" y2="235.9" stroke="#222" stroke-width="0.8"/>
<text x="483.4" y="246.2" font-size="6.4" font-weight="bold" text-anchor="middle" fill="#222" stroke="#222" stroke-width="0.2">40</text>
<line x1="512.6" y1="234.4" x2="512.6" y2="235.9" stroke="#222" stroke-width="0.8"/>
<text x="512.6" y="246.2" font-size="6.4" font-weight="bold" text-anchor="middle" fill="#222" stroke="#222" stroke-width="0.2">60</text>
<text x="469.1" y="254.7" font-size="7.2" font-weight="bold" text-anchor="middle" fill="#111" stroke="#111" stroke-width="0.3" word-spacing="1.6">(age years)</text>
<text transform="translate(412.3,194.2) rotate(-90)" font-size="6.0" font-weight="bold" text-anchor="middle" fill="#222" stroke="#222" stroke-width="0.15" word-spacing="0.8">naive T<tspan font-size="4.2" dy="1.2">reg</tspan><tspan dy="-1.2"> of total T</tspan><tspan font-size="4.2" dy="1.2">reg</tspan><tspan dy="-1.2"> (%)</tspan></text>
<circle cx="452" cy="180.3" r="1.3" fill="#fff" stroke="#2a2a2a" stroke-width="0.95"/>
<circle cx="462.6" cy="170" r="1.3" fill="#fff" stroke="#2a2a2a" stroke-width="0.95"/>
<circle cx="455.9" cy="196.5" r="1.3" fill="#fff" stroke="#2a2a2a" stroke-width="0.95"/>
<circle cx="458.8" cy="198" r="1.3" fill="#fff" stroke="#2a2a2a" stroke-width="0.95"/>
<circle cx="462.6" cy="195.6" r="1.3" fill="#fff" stroke="#2a2a2a" stroke-width="0.95"/>
<circle cx="468.2" cy="200.6" r="1.3" fill="#fff" stroke="#2a2a2a" stroke-width="0.95"/>
<circle cx="459.0" cy="206.8" r="1.3" fill="#fff" stroke="#2a2a2a" stroke-width="0.95"/>
<circle cx="461.9" cy="206.8" r="1.3" fill="#fff" stroke="#2a2a2a" stroke-width="0.95"/>
<circle cx="453.8" cy="211.2" r="1.3" fill="#fff" stroke="#2a2a2a" stroke-width="0.95"/>
<circle cx="462.6" cy="211.2" r="1.3" fill="#fff" stroke="#2a2a2a" stroke-width="0.95"/>
<circle cx="466.8" cy="209.7" r="1.3" fill="#fff" stroke="#2a2a2a" stroke-width="0.95"/>
<circle cx="477" cy="213.5" r="1.3" fill="#fff" stroke="#2a2a2a" stroke-width="0.95"/>
<circle cx="486.8" cy="212.4" r="1.3" fill="#fff" stroke="#2a2a2a" stroke-width="0.95"/>
<circle cx="490.3" cy="217" r="1.3" fill="#fff" stroke="#2a2a2a" stroke-width="0.95"/>
<circle cx="501.5" cy="221.2" r="1.3" fill="#fff" stroke="#2a2a2a" stroke-width="0.95"/>
<circle cx="512.4" cy="224.4" r="1.3" fill="#fff" stroke="#2a2a2a" stroke-width="0.95"/>
<circle cx="466.8" cy="225.9" r="1.3" fill="#fff" stroke="#2a2a2a" stroke-width="0.95"/>
<line x1="453" y1="193.5" x2="504.4" y2="228.2" stroke="#111" stroke-width="1"/>
<text x="482.2" y="172.5" font-size="7.7" fill="#111" font-weight="bold" stroke="#111" stroke-width="0.15"><tspan font-style="italic">P</tspan>&lt;.001</text>
<line x1="485.1" y1="177.7" x2="504.9" y2="177.7" stroke="#222" stroke-width="1.1"/>
</svg></body></html>
